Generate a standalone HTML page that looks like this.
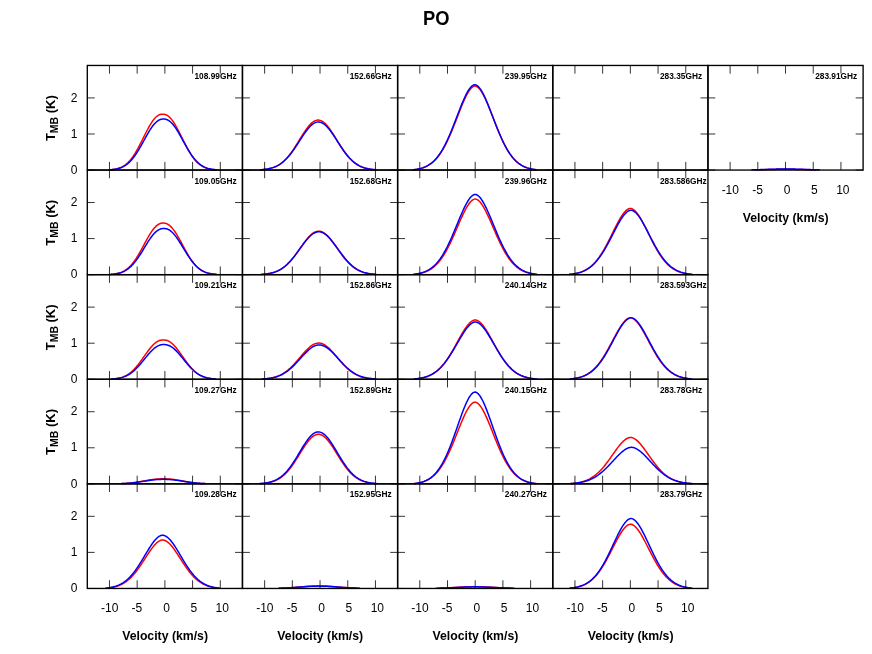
<!DOCTYPE html>
<html><head><meta charset="utf-8"><title>PO</title>
<style>
html,body{margin:0;padding:0;background:#fff;}
body{width:872px;height:654px;overflow:hidden;}
svg{display:block;will-change:transform;}
text{font-family:"Liberation Sans",sans-serif;fill:#000;}
.b{font-weight:bold;}
.t12{font-size:12px;}
.f{font-size:9.33px;font-weight:bold;}
</style></head><body>
<svg width="872" height="654" viewBox="0 0 872 654">
<rect x="0" y="0" width="872" height="654" fill="#fff"/>
<text class="b" font-size="20" text-anchor="middle" transform="translate(436.3 24.9) scale(0.917 1)">PO</text>
<g>
<g>
<polyline points="109.02,169.83 109.80,169.78 110.57,169.71 111.35,169.64 112.13,169.56 112.90,169.46 113.68,169.35 114.45,169.22 115.23,169.08 116.00,168.92 116.78,168.74 117.56,168.53 118.33,168.30 119.11,168.05 119.88,167.76 120.66,167.45 121.44,167.10 122.21,166.71 122.99,166.29 123.76,165.82 124.54,165.32 125.31,164.76 126.09,164.16 126.87,163.51 127.64,162.81 128.42,162.06 129.19,161.26 129.97,160.39 130.74,159.48 131.52,158.50 132.30,157.47 133.07,156.39 133.85,155.24 134.62,154.05 135.40,152.80 136.18,151.51 136.95,150.16 137.73,148.77 138.50,147.34 139.28,145.88 140.05,144.38 140.83,142.86 141.61,141.32 142.38,139.76 143.16,138.20 143.93,136.63 144.71,135.06 145.49,133.51 146.26,131.98 147.04,130.47 147.81,128.99 148.59,127.56 149.36,126.17 150.14,124.83 150.92,123.56 151.69,122.35 152.47,121.21 153.24,120.14 154.02,119.16 154.79,118.26 155.57,117.45 156.35,116.72 157.12,116.09 157.90,115.55 158.67,115.10 159.45,114.74 160.23,114.48 161.00,114.29 161.78,114.19 162.55,114.15 163.33,114.17 164.10,114.25 164.88,114.42 165.66,114.66 166.43,114.99 167.21,115.41 167.98,115.93 168.76,116.53 169.53,117.23 170.31,118.02 171.09,118.89 171.86,119.85 172.64,120.90 173.41,122.01 174.19,123.21 174.97,124.46 175.74,125.78 176.52,127.16 177.29,128.58 178.07,130.04 178.84,131.54 179.62,133.07 180.40,134.62 181.17,136.18 181.95,137.75 182.72,139.32 183.50,140.88 184.27,142.42 185.05,143.95 185.83,145.46 186.60,146.93 187.38,148.37 188.15,149.77 188.93,151.13 189.71,152.44 190.48,153.70 191.26,154.91 192.03,156.06 192.81,157.17 193.58,158.21 194.36,159.20 195.14,160.14 195.91,161.01 196.69,161.84 197.46,162.61 198.24,163.32 199.02,163.98 199.79,164.60 200.57,165.16 201.34,165.68 202.12,166.16 202.89,166.60 203.67,166.99 204.45,167.35 205.22,167.68 206.00,167.97 206.77,168.23 207.55,168.47 208.32,168.68 209.10,168.87 209.88,169.04 210.65,169.18 211.43,169.31 212.20,169.43 212.98,169.53 213.76,169.62 214.53,169.69 215.31,169.76 216.08,169.82" fill="none" stroke="#ff0000" stroke-width="1.5" stroke-linejoin="round"/>
<polyline points="109.80,169.81 110.57,169.75 111.35,169.69 112.13,169.61 112.90,169.53 113.68,169.43 114.45,169.32 115.23,169.19 116.00,169.05 116.78,168.89 117.56,168.71 118.33,168.51 119.11,168.29 119.88,168.04 120.66,167.76 121.44,167.46 122.21,167.12 122.99,166.75 123.76,166.35 124.54,165.90 125.31,165.42 126.09,164.89 126.87,164.33 127.64,163.72 128.42,163.06 129.19,162.35 129.97,161.60 130.74,160.79 131.52,159.94 132.30,159.03 133.07,158.08 133.85,157.08 134.62,156.02 135.40,154.93 136.18,153.78 136.95,152.59 137.73,151.36 138.50,150.10 139.28,148.80 140.05,147.47 140.83,146.11 141.61,144.73 142.38,143.33 143.16,141.93 143.93,140.51 144.71,139.10 145.49,137.69 146.26,136.30 147.04,134.92 147.81,133.57 148.59,132.25 149.36,130.96 150.14,129.72 150.92,128.53 151.69,127.39 152.47,126.31 153.24,125.29 154.02,124.35 154.79,123.47 155.57,122.67 156.35,121.95 157.12,121.30 157.90,120.74 158.67,120.26 159.45,119.86 160.23,119.55 161.00,119.31 161.78,119.15 162.55,119.05 163.33,119.02 164.10,119.04 164.88,119.11 165.66,119.25 166.43,119.47 167.21,119.77 167.98,120.14 168.76,120.60 169.53,121.14 170.31,121.75 171.09,122.46 171.86,123.23 172.64,124.09 173.41,125.02 174.19,126.01 174.97,127.08 175.74,128.20 176.52,129.38 177.29,130.60 178.07,131.88 178.84,133.19 179.62,134.53 180.40,135.90 181.17,137.29 181.95,138.70 182.72,140.11 183.50,141.52 184.27,142.93 185.05,144.33 185.83,145.72 186.60,147.08 187.38,148.42 188.15,149.73 188.93,151.01 189.71,152.25 190.48,153.45 191.26,154.60 192.03,155.72 192.81,156.78 193.58,157.80 194.36,158.77 195.14,159.68 195.91,160.55 196.69,161.37 197.46,162.14 198.24,162.86 199.02,163.53 199.79,164.16 200.57,164.74 201.34,165.27 202.12,165.77 202.89,166.22 203.67,166.64 204.45,167.02 205.22,167.37 206.00,167.68 206.77,167.96 207.55,168.22 208.32,168.45 209.10,168.66 209.88,168.84 210.65,169.01 211.43,169.16 212.20,169.29 212.98,169.40 213.76,169.50 214.53,169.59 215.31,169.67 216.08,169.73 216.86,169.79" fill="none" stroke="#0000ff" stroke-width="1.5" stroke-linejoin="round"/>
</g>
<path d="M109.47 170.06V161.86M109.47 65.46V73.66M137.17 170.06V161.86M137.17 65.46V73.66M164.88 170.06V161.86M164.88 65.46V73.66M192.59 170.06V161.86M192.59 65.46V73.66M220.29 170.06V161.86M220.29 65.46V73.66M87.30 170.06H94.70M242.46 170.06H235.06M87.30 133.99H94.70M242.46 133.99H235.06M87.30 97.92H94.70M242.46 97.92H235.06" stroke="#000" stroke-width="0.8" fill="none"/>
<rect x="87.30" y="65.46" width="155.16" height="104.60" fill="none" stroke="#000" stroke-width="1.35"/>
<text class="f" transform="translate(194.50 79.06) scale(0.893 1)">108.99GHz</text>
<text class="t12" x="77.4" y="173.76" text-anchor="end">0</text>
<text class="t12" x="77.4" y="137.69" text-anchor="end">1</text>
<text class="t12" x="77.4" y="101.62" text-anchor="end">2</text>
<text class="b" font-size="12.4" text-anchor="middle" transform="translate(54.6 118.16) rotate(-90) scale(1.048 1)">T<tspan font-size="10" dy="3.7">MB</tspan><tspan dy="-3.7"> (K)</tspan></text>
</g>
<g>
<g>
<polyline points="260.30,169.81 261.08,169.76 261.85,169.69 262.63,169.63 263.41,169.55 264.18,169.46 264.96,169.37 265.73,169.26 266.51,169.14 267.29,169.01 268.06,168.87 268.84,168.71 269.61,168.54 270.39,168.35 271.16,168.14 271.94,167.91 272.72,167.66 273.49,167.39 274.27,167.10 275.04,166.78 275.82,166.44 276.60,166.07 277.37,165.66 278.15,165.23 278.92,164.77 279.70,164.28 280.47,163.75 281.25,163.18 282.03,162.59 282.80,161.95 283.58,161.28 284.35,160.56 285.13,159.81 285.90,159.03 286.68,158.20 287.46,157.33 288.23,156.43 289.01,155.48 289.78,154.50 290.56,153.49 291.34,152.44 292.11,151.35 292.89,150.24 293.66,149.09 294.44,147.92 295.21,146.72 295.99,145.51 296.77,144.27 297.54,143.03 298.32,141.77 299.09,140.50 299.87,139.23 300.64,137.97 301.42,136.71 302.20,135.46 302.97,134.23 303.75,133.02 304.52,131.83 305.30,130.68 306.08,129.56 306.85,128.49 307.63,127.46 308.40,126.48 309.18,125.55 309.95,124.69 310.73,123.89 311.51,123.16 312.28,122.50 313.06,121.91 313.83,121.41 314.61,120.98 315.39,120.64 316.16,120.38 316.94,120.20 317.71,120.12 318.49,120.12 319.26,120.20 320.04,120.38 320.82,120.64 321.59,120.98 322.37,121.41 323.14,121.91 323.92,122.50 324.69,123.16 325.47,123.89 326.25,124.69 327.02,125.55 327.80,126.48 328.57,127.46 329.35,128.49 330.13,129.56 330.90,130.68 331.68,131.83 332.45,133.02 333.23,134.23 334.00,135.46 334.78,136.71 335.56,137.97 336.33,139.23 337.11,140.50 337.88,141.77 338.66,143.03 339.43,144.27 340.21,145.51 340.99,146.72 341.76,147.92 342.54,149.09 343.31,150.24 344.09,151.35 344.87,152.44 345.64,153.49 346.42,154.50 347.19,155.48 347.97,156.43 348.74,157.33 349.52,158.20 350.30,159.03 351.07,159.81 351.85,160.56 352.62,161.28 353.40,161.95 354.18,162.59 354.95,163.18 355.73,163.75 356.50,164.28 357.28,164.77 358.05,165.23 358.83,165.66 359.61,166.07 360.38,166.44 361.16,166.78 361.93,167.10 362.71,167.39 363.48,167.66 364.26,167.91 365.04,168.14 365.81,168.35 366.59,168.54 367.36,168.71 368.14,168.87 368.92,169.01 369.69,169.14 370.47,169.26 371.24,169.37 372.02,169.46 372.79,169.55 373.57,169.63 374.35,169.69 375.12,169.76 375.90,169.81" fill="none" stroke="#ff0000" stroke-width="1.5" stroke-linejoin="round"/>
<polyline points="260.30,169.79 261.08,169.74 261.85,169.67 262.63,169.60 263.41,169.53 264.18,169.44 264.96,169.34 265.73,169.24 266.51,169.12 267.29,168.99 268.06,168.85 268.84,168.69 269.61,168.52 270.39,168.33 271.16,168.13 271.94,167.90 272.72,167.66 273.49,167.39 274.27,167.11 275.04,166.79 275.82,166.46 276.60,166.10 277.37,165.71 278.15,165.29 278.92,164.84 279.70,164.36 280.47,163.85 281.25,163.31 282.03,162.73 282.80,162.12 283.58,161.47 284.35,160.79 285.13,160.07 285.90,159.31 286.68,158.52 287.46,157.69 288.23,156.82 289.01,155.92 289.78,154.99 290.56,154.02 291.34,153.02 292.11,151.98 292.89,150.92 293.66,149.83 294.44,148.72 295.21,147.58 295.99,146.43 296.77,145.25 297.54,144.07 298.32,142.87 299.09,141.67 299.87,140.46 300.64,139.26 301.42,138.06 302.20,136.87 302.97,135.70 303.75,134.55 304.52,133.42 305.30,132.32 306.08,131.25 306.85,130.22 307.63,129.24 308.40,128.30 309.18,127.41 309.95,126.57 310.73,125.80 311.51,125.09 312.28,124.44 313.06,123.87 313.83,123.36 314.61,122.94 315.39,122.59 316.16,122.31 316.94,122.12 317.71,122.01 318.49,121.98 319.26,122.03 320.04,122.17 320.82,122.38 321.59,122.68 322.37,123.05 323.14,123.50 323.92,124.02 324.69,124.62 325.47,125.28 326.25,126.01 327.02,126.81 327.80,127.66 328.57,128.56 329.35,129.51 330.13,130.51 330.90,131.55 331.68,132.63 332.45,133.74 333.23,134.88 334.00,136.03 334.78,137.21 335.56,138.40 336.33,139.60 337.11,140.81 337.88,142.01 338.66,143.21 339.43,144.41 340.21,145.59 340.99,146.76 341.76,147.91 342.54,149.04 343.31,150.15 344.09,151.23 344.87,152.28 345.64,153.31 346.42,154.30 347.19,155.26 347.97,156.18 348.74,157.07 349.52,157.93 350.30,158.75 351.07,159.53 351.85,160.28 352.62,160.99 353.40,161.66 354.18,162.30 354.95,162.90 355.73,163.47 356.50,164.00 357.28,164.50 358.05,164.97 358.83,165.41 359.61,165.82 360.38,166.20 361.16,166.56 361.93,166.89 362.71,167.19 363.48,167.47 364.26,167.73 365.04,167.97 365.81,168.19 366.59,168.39 367.36,168.57 368.14,168.74 368.92,168.89 369.69,169.03 370.47,169.16 371.24,169.27 372.02,169.37 372.79,169.47 373.57,169.55 374.35,169.62 375.12,169.69 375.90,169.75 376.67,169.81" fill="none" stroke="#0000ff" stroke-width="1.5" stroke-linejoin="round"/>
</g>
<path d="M264.63 170.06V161.86M264.63 65.46V73.66M292.33 170.06V161.86M292.33 65.46V73.66M320.04 170.06V161.86M320.04 65.46V73.66M347.75 170.06V161.86M347.75 65.46V73.66M375.45 170.06V161.86M375.45 65.46V73.66M242.46 170.06H249.86M397.62 170.06H390.22M242.46 133.99H249.86M397.62 133.99H390.22M242.46 97.92H249.86M397.62 97.92H390.22" stroke="#000" stroke-width="0.8" fill="none"/>
<rect x="242.46" y="65.46" width="155.16" height="104.60" fill="none" stroke="#000" stroke-width="1.35"/>
<text class="f" transform="translate(349.66 79.06) scale(0.893 1)">152.66GHz</text>
</g>
<g>
<g>
<polyline points="413.14,169.82 413.91,169.73 414.69,169.64 415.46,169.53 416.24,169.42 417.01,169.29 417.79,169.15 418.57,168.99 419.34,168.82 420.12,168.64 420.89,168.44 421.67,168.22 422.45,167.98 423.22,167.72 424.00,167.44 424.77,167.13 425.55,166.80 426.32,166.45 427.10,166.06 427.88,165.65 428.65,165.20 429.43,164.72 430.20,164.21 430.98,163.66 431.76,163.07 432.53,162.44 433.31,161.77 434.08,161.05 434.86,160.29 435.63,159.49 436.41,158.63 437.19,157.73 437.96,156.78 438.74,155.77 439.51,154.72 440.29,153.61 441.06,152.44 441.84,151.22 442.62,149.95 443.39,148.62 444.17,147.23 444.94,145.79 445.72,144.30 446.50,142.76 447.27,141.16 448.05,139.51 448.82,137.81 449.60,136.07 450.37,134.29 451.15,132.46 451.93,130.60 452.70,128.70 453.48,126.78 454.25,124.83 455.03,122.86 455.81,120.87 456.58,118.87 457.36,116.87 458.13,114.87 458.91,112.88 459.68,110.91 460.46,108.95 461.24,107.03 462.01,105.14 462.79,103.29 463.56,101.50 464.34,99.76 465.11,98.09 465.89,96.50 466.67,94.99 467.44,93.56 468.22,92.24 468.99,91.02 469.77,89.91 470.55,88.93 471.32,88.07 472.10,87.35 472.87,86.77 473.65,86.35 474.42,86.09 475.20,86.03 475.98,86.18 476.75,86.51 477.53,87.00 478.30,87.64 479.08,88.42 479.85,89.33 480.63,90.37 481.41,91.53 482.18,92.79 482.96,94.16 483.73,95.62 484.51,97.17 485.29,98.80 486.06,100.50 486.84,102.26 487.61,104.08 488.39,105.94 489.16,107.85 489.94,109.79 490.72,111.75 491.49,113.74 492.27,115.73 493.04,117.73 493.82,119.73 494.60,121.72 495.37,123.70 496.15,125.67 496.92,127.61 497.70,129.52 498.47,131.40 499.25,133.25 500.03,135.06 500.80,136.82 501.58,138.55 502.35,140.22 503.13,141.85 503.90,143.42 504.68,144.95 505.46,146.42 506.23,147.83 507.01,149.19 507.78,150.50 508.56,151.75 509.34,152.95 510.11,154.09 510.89,155.18 511.66,156.21 512.44,157.19 513.21,158.12 513.99,159.01 514.77,159.84 515.54,160.62 516.32,161.36 517.09,162.06 517.87,162.71 518.64,163.32 519.42,163.90 520.20,164.43 520.97,164.93 521.75,165.40 522.52,165.83 523.30,166.23 524.08,166.60 524.85,166.95 525.63,167.27 526.40,167.56 527.18,167.84 527.95,168.09 528.73,168.32 529.51,168.53 530.28,168.72 531.06,168.90 531.83,169.06 532.61,169.21 533.38,169.34 534.16,169.47 534.94,169.58 535.71,169.68 536.49,169.77" fill="none" stroke="#ff0000" stroke-width="1.5" stroke-linejoin="round"/>
<polyline points="413.14,169.79 413.91,169.70 414.69,169.60 415.46,169.49 416.24,169.37 417.01,169.24 417.79,169.09 418.57,168.93 419.34,168.75 420.12,168.56 420.89,168.35 421.67,168.12 422.45,167.88 423.22,167.61 424.00,167.31 424.77,167.00 425.55,166.65 426.32,166.28 427.10,165.88 427.88,165.45 428.65,164.99 429.43,164.49 430.20,163.96 430.98,163.39 431.76,162.78 432.53,162.13 433.31,161.44 434.08,160.70 434.86,159.91 435.63,159.08 436.41,158.20 437.19,157.27 437.96,156.29 438.74,155.25 439.51,154.16 440.29,153.02 441.06,151.82 441.84,150.57 442.62,149.26 443.39,147.89 444.17,146.47 444.94,144.99 445.72,143.46 446.50,141.88 447.27,140.24 448.05,138.55 448.82,136.82 449.60,135.03 450.37,133.21 451.15,131.34 451.93,129.44 452.70,127.51 453.48,125.55 454.25,123.56 455.03,121.55 455.81,119.53 456.58,117.50 457.36,115.47 458.13,113.44 458.91,111.43 459.68,109.42 460.46,107.45 461.24,105.50 462.01,103.60 462.79,101.74 463.56,99.93 464.34,98.19 465.11,96.51 465.89,94.91 466.67,93.40 467.44,91.99 468.22,90.67 468.99,89.46 469.77,88.37 470.55,87.41 471.32,86.58 472.10,85.89 472.87,85.34 473.65,84.96 474.42,84.75 475.20,84.75 475.98,84.96 476.75,85.34 477.53,85.89 478.30,86.58 479.08,87.41 479.85,88.37 480.63,89.46 481.41,90.67 482.18,91.99 482.96,93.40 483.73,94.91 484.51,96.51 485.29,98.19 486.06,99.93 486.84,101.74 487.61,103.60 488.39,105.50 489.16,107.45 489.94,109.42 490.72,111.43 491.49,113.44 492.27,115.47 493.04,117.50 493.82,119.53 494.60,121.55 495.37,123.56 496.15,125.55 496.92,127.51 497.70,129.44 498.47,131.34 499.25,133.21 500.03,135.03 500.80,136.82 501.58,138.55 502.35,140.24 503.13,141.88 503.90,143.46 504.68,144.99 505.46,146.47 506.23,147.89 507.01,149.26 507.78,150.57 508.56,151.82 509.34,153.02 510.11,154.16 510.89,155.25 511.66,156.29 512.44,157.27 513.21,158.20 513.99,159.08 514.77,159.91 515.54,160.70 516.32,161.44 517.09,162.13 517.87,162.78 518.64,163.39 519.42,163.96 520.20,164.49 520.97,164.99 521.75,165.45 522.52,165.88 523.30,166.28 524.08,166.65 524.85,167.00 525.63,167.31 526.40,167.61 527.18,167.88 527.95,168.12 528.73,168.35 529.51,168.56 530.28,168.75 531.06,168.93 531.83,169.09 532.61,169.24 533.38,169.37 534.16,169.49 534.94,169.60 535.71,169.70 536.49,169.79" fill="none" stroke="#0000ff" stroke-width="1.5" stroke-linejoin="round"/>
</g>
<path d="M419.79 170.06V161.86M419.79 65.46V73.66M447.49 170.06V161.86M447.49 65.46V73.66M475.20 170.06V161.86M475.20 65.46V73.66M502.91 170.06V161.86M502.91 65.46V73.66M530.61 170.06V161.86M530.61 65.46V73.66M397.62 170.06H405.02M552.78 170.06H545.38M397.62 133.99H405.02M552.78 133.99H545.38M397.62 97.92H405.02M552.78 97.92H545.38" stroke="#000" stroke-width="0.8" fill="none"/>
<rect x="397.62" y="65.46" width="155.16" height="104.60" fill="none" stroke="#000" stroke-width="1.35"/>
<text class="f" transform="translate(504.82 79.06) scale(0.893 1)">239.95GHz</text>
</g>
<g>
<g>


</g>
<path d="M574.95 170.06V161.86M574.95 65.46V73.66M602.65 170.06V161.86M602.65 65.46V73.66M630.36 170.06V161.86M630.36 65.46V73.66M658.07 170.06V161.86M658.07 65.46V73.66M685.77 170.06V161.86M685.77 65.46V73.66M552.78 170.06H560.18M707.94 170.06H700.54M552.78 133.99H560.18M707.94 133.99H700.54M552.78 97.92H560.18M707.94 97.92H700.54" stroke="#000" stroke-width="0.8" fill="none"/>
<rect x="552.78" y="65.46" width="155.16" height="104.60" fill="none" stroke="#000" stroke-width="1.35"/>
<text class="f" transform="translate(659.98 79.06) scale(0.893 1)">283.35GHz</text>
</g>
<g>
<g>
<polyline points="755.26,169.83 756.04,169.82 756.82,169.81 757.59,169.79 758.37,169.77 759.14,169.76 759.92,169.74 760.69,169.73 761.47,169.71 762.25,169.69 763.02,169.67 763.80,169.66 764.57,169.64 765.35,169.62 766.12,169.60 766.90,169.58 767.68,169.56 768.45,169.54 769.23,169.52 770.00,169.51 770.78,169.49 771.56,169.47 772.33,169.45 773.11,169.43 773.88,169.42 774.66,169.40 775.43,169.38 776.21,169.37 776.99,169.35 777.76,169.34 778.54,169.33 779.31,169.32 780.09,169.31 780.87,169.30 781.64,169.29 782.42,169.28 783.19,169.27 783.97,169.27 784.74,169.27 785.52,169.27 786.30,169.27 787.07,169.27 787.85,169.27 788.62,169.28 789.40,169.29 790.17,169.30 790.95,169.31 791.73,169.32 792.50,169.33 793.28,169.34 794.05,169.35 794.83,169.37 795.61,169.38 796.38,169.40 797.16,169.42 797.93,169.43 798.71,169.45 799.48,169.47 800.26,169.49 801.04,169.51 801.81,169.52 802.59,169.54 803.36,169.56 804.14,169.58 804.91,169.60 805.69,169.62 806.47,169.64 807.24,169.66 808.02,169.67 808.79,169.69 809.57,169.71 810.35,169.73 811.12,169.74 811.90,169.76 812.67,169.77 813.45,169.79 814.22,169.81 815.00,169.82 815.78,169.83" fill="none" stroke="#ff0000" stroke-width="1.5" stroke-linejoin="round"/>
<polyline points="751.38,169.84 752.16,169.82 752.94,169.80 753.71,169.79 754.49,169.77 755.26,169.75 756.04,169.73 756.82,169.71 757.59,169.69 758.37,169.67 759.14,169.65 759.92,169.63 760.69,169.60 761.47,169.58 762.25,169.56 763.02,169.53 763.80,169.51 764.57,169.48 765.35,169.46 766.12,169.43 766.90,169.41 767.68,169.38 768.45,169.35 769.23,169.33 770.00,169.30 770.78,169.28 771.56,169.25 772.33,169.23 773.11,169.21 773.88,169.18 774.66,169.16 775.43,169.14 776.21,169.12 776.99,169.10 777.76,169.08 778.54,169.06 779.31,169.05 780.09,169.03 780.87,169.02 781.64,169.01 782.42,169.00 783.19,168.99 783.97,168.98 784.74,168.98 785.52,168.98 786.30,168.98 787.07,168.98 787.85,168.99 788.62,169.00 789.40,169.01 790.17,169.02 790.95,169.03 791.73,169.05 792.50,169.06 793.28,169.08 794.05,169.10 794.83,169.12 795.61,169.14 796.38,169.16 797.16,169.18 797.93,169.21 798.71,169.23 799.48,169.25 800.26,169.28 801.04,169.30 801.81,169.33 802.59,169.35 803.36,169.38 804.14,169.41 804.91,169.43 805.69,169.46 806.47,169.48 807.24,169.51 808.02,169.53 808.79,169.56 809.57,169.58 810.35,169.60 811.12,169.63 811.90,169.65 812.67,169.67 813.45,169.69 814.22,169.71 815.00,169.73 815.78,169.75 816.55,169.77 817.33,169.79 818.10,169.80 818.88,169.82 819.66,169.84" fill="none" stroke="#0000ff" stroke-width="1.5" stroke-linejoin="round"/>
</g>
<path d="M730.11 170.06V161.86M730.11 65.46V73.66M757.81 170.06V161.86M757.81 65.46V73.66M785.52 170.06V161.86M785.52 65.46V73.66M813.23 170.06V161.86M813.23 65.46V73.66M840.93 170.06V161.86M840.93 65.46V73.66M707.94 170.06H715.34M863.10 170.06H855.70M707.94 133.99H715.34M863.10 133.99H855.70M707.94 97.92H715.34M863.10 97.92H855.70" stroke="#000" stroke-width="0.8" fill="none"/>
<rect x="707.94" y="65.46" width="155.16" height="104.60" fill="none" stroke="#000" stroke-width="1.35"/>
<text class="f" transform="translate(815.14 79.06) scale(0.893 1)">283.91GHz</text>
<text class="t12" x="730.31" y="193.66" text-anchor="middle">-10</text>
<text class="t12" x="757.51" y="193.66" text-anchor="middle">-5</text>
<text class="t12" x="787.12" y="193.66" text-anchor="middle">0</text>
<text class="t12" x="814.43" y="193.66" text-anchor="middle">5</text>
<text class="t12" x="842.83" y="193.66" text-anchor="middle">10</text>
<text class="b" font-size="12.75" text-anchor="middle" transform="translate(785.72 221.66) scale(0.962 1)">Velocity (km/s)</text>
</g>
<g>
<g>
<polyline points="109.80,274.44 110.57,274.38 111.35,274.32 112.13,274.25 112.90,274.17 113.68,274.08 114.45,273.97 115.23,273.85 116.00,273.72 116.78,273.56 117.56,273.39 118.33,273.19 119.11,272.97 119.88,272.73 120.66,272.46 121.44,272.16 122.21,271.83 122.99,271.46 123.76,271.06 124.54,270.62 125.31,270.14 126.09,269.62 126.87,269.05 127.64,268.44 128.42,267.78 129.19,267.07 129.97,266.31 130.74,265.50 131.52,264.64 132.30,263.73 133.07,262.76 133.85,261.75 134.62,260.68 135.40,259.56 136.18,258.40 136.95,257.19 137.73,255.94 138.50,254.65 139.28,253.32 140.05,251.96 140.83,250.57 141.61,249.16 142.38,247.74 143.16,246.30 143.93,244.85 144.71,243.40 145.49,241.96 146.26,240.53 147.04,239.13 147.81,237.74 148.59,236.39 149.36,235.08 150.14,233.81 150.92,232.59 151.69,231.43 152.47,230.33 153.24,229.30 154.02,228.34 154.79,227.45 155.57,226.65 156.35,225.92 157.12,225.28 157.90,224.72 158.67,224.24 159.45,223.85 160.23,223.55 161.00,223.32 161.78,223.18 162.55,223.10 163.33,223.08 164.10,223.11 164.88,223.21 165.66,223.38 166.43,223.63 167.21,223.96 167.98,224.37 168.76,224.87 169.53,225.45 170.31,226.12 171.09,226.87 171.86,227.70 172.64,228.61 173.41,229.59 174.19,230.64 174.97,231.76 175.74,232.94 176.52,234.17 177.29,235.45 178.07,236.77 178.84,238.13 179.62,239.53 180.40,240.94 181.17,242.37 181.95,243.82 182.72,245.26 183.50,246.71 184.27,248.14 185.05,249.57 185.83,250.97 186.60,252.35 187.38,253.70 188.15,255.02 188.93,256.30 189.71,257.54 190.48,258.74 191.26,259.89 192.03,260.99 192.81,262.04 193.58,263.05 194.36,264.00 195.14,264.89 195.91,265.74 196.69,266.54 197.46,267.28 198.24,267.98 199.02,268.62 199.79,269.22 200.57,269.77 201.34,270.28 202.12,270.75 202.89,271.18 203.67,271.57 204.45,271.93 205.22,272.25 206.00,272.54 206.77,272.80 207.55,273.04 208.32,273.25 209.10,273.44 209.88,273.61 210.65,273.76 211.43,273.89 212.20,274.00 212.98,274.11 213.76,274.20 214.53,274.27 215.31,274.34 216.08,274.40" fill="none" stroke="#ff0000" stroke-width="1.5" stroke-linejoin="round"/>
<polyline points="110.57,274.40 111.35,274.35 112.13,274.29 112.90,274.21 113.68,274.13 114.45,274.03 115.23,273.93 116.00,273.81 116.78,273.67 117.56,273.51 118.33,273.34 119.11,273.15 119.88,272.93 120.66,272.69 121.44,272.43 122.21,272.14 122.99,271.81 123.76,271.46 124.54,271.07 125.31,270.65 126.09,270.20 126.87,269.70 127.64,269.16 128.42,268.59 129.19,267.97 129.97,267.30 130.74,266.59 131.52,265.84 132.30,265.04 133.07,264.20 133.85,263.31 134.62,262.38 135.40,261.40 136.18,260.38 136.95,259.32 137.73,258.23 138.50,257.10 139.28,255.93 140.05,254.74 140.83,253.52 141.61,252.28 142.38,251.03 143.16,249.76 143.93,248.48 144.71,247.20 145.49,245.93 146.26,244.66 147.04,243.40 147.81,242.17 148.59,240.96 149.36,239.79 150.14,238.65 150.92,237.55 151.69,236.50 152.47,235.50 153.24,234.55 154.02,233.67 154.79,232.85 155.57,232.09 156.35,231.41 157.12,230.80 157.90,230.26 158.67,229.79 159.45,229.40 160.23,229.08 161.00,228.83 161.78,228.66 162.55,228.55 163.33,228.50 164.10,228.49 164.88,228.54 165.66,228.64 166.43,228.81 167.21,229.04 167.98,229.35 168.76,229.73 169.53,230.19 170.31,230.71 171.09,231.32 171.86,231.99 172.64,232.74 173.41,233.55 174.19,234.42 174.97,235.36 175.74,236.35 176.52,237.40 177.29,238.49 178.07,239.62 178.84,240.79 179.62,242.00 180.40,243.23 181.17,244.48 181.95,245.74 182.72,247.02 183.50,248.30 184.27,249.57 185.05,250.84 185.83,252.10 186.60,253.35 187.38,254.57 188.15,255.76 188.93,256.93 189.71,258.07 190.48,259.17 191.26,260.23 192.03,261.26 192.81,262.24 193.58,263.18 194.36,264.07 195.14,264.92 195.91,265.73 196.69,266.49 197.46,267.20 198.24,267.87 199.02,268.50 199.79,269.08 200.57,269.62 201.34,270.13 202.12,270.59 202.89,271.02 203.67,271.41 204.45,271.77 205.22,272.09 206.00,272.39 206.77,272.66 207.55,272.90 208.32,273.12 209.10,273.31 209.88,273.49 210.65,273.65 211.43,273.79 212.20,273.91 212.98,274.02 213.76,274.12 214.53,274.20 215.31,274.28 216.08,274.34 216.86,274.40" fill="none" stroke="#0000ff" stroke-width="1.5" stroke-linejoin="round"/>
</g>
<path d="M109.47 274.66V266.46M109.47 170.06V178.26M137.17 274.66V266.46M137.17 170.06V178.26M164.88 274.66V266.46M164.88 170.06V178.26M192.59 274.66V266.46M192.59 170.06V178.26M220.29 274.66V266.46M220.29 170.06V178.26M87.30 274.66H94.70M242.46 274.66H235.06M87.30 238.59H94.70M242.46 238.59H235.06M87.30 202.52H94.70M242.46 202.52H235.06" stroke="#000" stroke-width="0.8" fill="none"/>
<rect x="87.30" y="170.06" width="155.16" height="104.60" fill="none" stroke="#000" stroke-width="1.35"/>
<text class="f" transform="translate(194.50 183.66) scale(0.893 1)">109.05GHz</text>
<text class="t12" x="77.4" y="278.36" text-anchor="end">0</text>
<text class="t12" x="77.4" y="242.29" text-anchor="end">1</text>
<text class="t12" x="77.4" y="206.22" text-anchor="end">2</text>
<text class="b" font-size="12.4" text-anchor="middle" transform="translate(54.6 222.76) rotate(-90) scale(1.048 1)">T<tspan font-size="10" dy="3.7">MB</tspan><tspan dy="-3.7"> (K)</tspan></text>
</g>
<g>
<g>
<polyline points="261.08,274.43 261.85,274.38 262.63,274.33 263.41,274.26 264.18,274.19 264.96,274.12 265.73,274.03 266.51,273.94 267.29,273.83 268.06,273.72 268.84,273.59 269.61,273.45 270.39,273.29 271.16,273.12 271.94,272.94 272.72,272.73 273.49,272.51 274.27,272.27 275.04,272.01 275.82,271.72 276.60,271.42 277.37,271.09 278.15,270.73 278.92,270.35 279.70,269.94 280.47,269.50 281.25,269.03 282.03,268.53 282.80,268.00 283.58,267.44 284.35,266.84 285.13,266.22 285.90,265.55 286.68,264.86 287.46,264.13 288.23,263.36 289.01,262.57 289.78,261.74 290.56,260.88 291.34,259.98 292.11,259.06 292.89,258.11 293.66,257.13 294.44,256.13 295.21,255.10 295.99,254.06 296.77,252.99 297.54,251.92 298.32,250.83 299.09,249.73 299.87,248.63 300.64,247.52 301.42,246.42 302.20,245.33 302.97,244.25 303.75,243.18 304.52,242.13 305.30,241.11 306.08,240.12 306.85,239.15 307.63,238.23 308.40,237.35 309.18,236.51 309.95,235.72 310.73,234.98 311.51,234.30 312.28,233.68 313.06,233.13 313.83,232.64 314.61,232.22 315.39,231.87 316.16,231.59 316.94,231.38 317.71,231.25 318.49,231.20 319.26,231.22 320.04,231.32 320.82,231.49 321.59,231.74 322.37,232.06 323.14,232.45 323.92,232.91 324.69,233.44 325.47,234.03 326.25,234.68 327.02,235.40 327.80,236.16 328.57,236.98 329.35,237.85 330.13,238.75 330.90,239.70 331.68,240.68 332.45,241.69 333.23,242.73 334.00,243.79 334.78,244.87 335.56,245.95 336.33,247.05 337.11,248.15 337.88,249.26 338.66,250.36 339.43,251.45 340.21,252.53 340.99,253.60 341.76,254.66 342.54,255.69 343.31,256.70 344.09,257.69 344.87,258.66 345.64,259.59 346.42,260.50 347.19,261.37 347.97,262.22 348.74,263.03 349.52,263.80 350.30,264.55 351.07,265.26 351.85,265.94 352.62,266.58 353.40,267.19 354.18,267.77 354.95,268.31 355.73,268.82 356.50,269.30 357.28,269.75 358.05,270.18 358.83,270.57 359.61,270.94 360.38,271.28 361.16,271.60 361.93,271.89 362.71,272.16 363.48,272.41 364.26,272.64 365.04,272.85 365.81,273.04 366.59,273.22 367.36,273.38 368.14,273.53 368.92,273.66 369.69,273.78 370.47,273.89 371.24,273.99 372.02,274.08 372.79,274.16 373.57,274.24 374.35,274.30 375.12,274.36 375.90,274.41" fill="none" stroke="#ff0000" stroke-width="1.5" stroke-linejoin="round"/>
<polyline points="261.08,274.40 261.85,274.35 262.63,274.29 263.41,274.22 264.18,274.15 264.96,274.07 265.73,273.98 266.51,273.88 267.29,273.77 268.06,273.65 268.84,273.52 269.61,273.38 270.39,273.22 271.16,273.04 271.94,272.85 272.72,272.64 273.49,272.42 274.27,272.17 275.04,271.91 275.82,271.62 276.60,271.31 277.37,270.98 278.15,270.62 278.92,270.23 279.70,269.82 280.47,269.38 281.25,268.91 282.03,268.41 282.80,267.89 283.58,267.33 284.35,266.73 285.13,266.11 285.90,265.45 286.68,264.76 287.46,264.04 288.23,263.29 289.01,262.50 289.78,261.69 290.56,260.84 291.34,259.96 292.11,259.05 292.89,258.12 293.66,257.16 294.44,256.18 295.21,255.18 295.99,254.15 296.77,253.11 297.54,252.06 298.32,251.00 299.09,249.93 299.87,248.85 300.64,247.78 301.42,246.70 302.20,245.64 302.97,244.58 303.75,243.54 304.52,242.52 305.30,241.53 306.08,240.56 306.85,239.62 307.63,238.71 308.40,237.85 309.18,237.03 309.95,236.26 310.73,235.54 311.51,234.87 312.28,234.26 313.06,233.71 313.83,233.22 314.61,232.80 315.39,232.45 316.16,232.17 316.94,231.95 317.71,231.81 318.49,231.74 319.26,231.75 320.04,231.83 320.82,231.98 321.59,232.20 322.37,232.50 323.14,232.86 323.92,233.29 324.69,233.78 325.47,234.34 326.25,234.96 327.02,235.64 327.80,236.36 328.57,237.14 329.35,237.97 330.13,238.84 330.90,239.75 331.68,240.69 332.45,241.67 333.23,242.67 334.00,243.69 334.78,244.73 335.56,245.79 336.33,246.86 337.11,247.93 337.88,249.01 338.66,250.08 339.43,251.15 340.21,252.21 340.99,253.26 341.76,254.30 342.54,255.32 343.31,256.32 344.09,257.30 344.87,258.26 345.64,259.18 346.42,260.09 347.19,260.96 347.97,261.80 348.74,262.62 349.52,263.40 350.30,264.15 351.07,264.86 351.85,265.55 352.62,266.20 353.40,266.82 354.18,267.41 354.95,267.96 355.73,268.49 356.50,268.98 357.28,269.45 358.05,269.88 358.83,270.29 359.61,270.67 360.38,271.02 361.16,271.36 361.93,271.66 362.71,271.95 363.48,272.21 364.26,272.45 365.04,272.67 365.81,272.88 366.59,273.07 367.36,273.24 368.14,273.40 368.92,273.54 369.69,273.67 370.47,273.79 371.24,273.90 372.02,273.99 372.79,274.08 373.57,274.16 374.35,274.23 375.12,274.30 375.90,274.35 376.67,274.41" fill="none" stroke="#0000ff" stroke-width="1.5" stroke-linejoin="round"/>
</g>
<path d="M264.63 274.66V266.46M264.63 170.06V178.26M292.33 274.66V266.46M292.33 170.06V178.26M320.04 274.66V266.46M320.04 170.06V178.26M347.75 274.66V266.46M347.75 170.06V178.26M375.45 274.66V266.46M375.45 170.06V178.26M242.46 274.66H249.86M397.62 274.66H390.22M242.46 238.59H249.86M397.62 238.59H390.22M242.46 202.52H249.86M397.62 202.52H390.22" stroke="#000" stroke-width="0.8" fill="none"/>
<rect x="242.46" y="170.06" width="155.16" height="104.60" fill="none" stroke="#000" stroke-width="1.35"/>
<text class="f" transform="translate(349.66 183.66) scale(0.893 1)">152.68GHz</text>
</g>
<g>
<g>
<polyline points="413.91,274.38 414.69,274.30 415.46,274.21 416.24,274.10 417.01,273.99 417.79,273.87 418.57,273.73 419.34,273.58 420.12,273.42 420.89,273.24 421.67,273.05 422.45,272.84 423.22,272.61 424.00,272.36 424.77,272.09 425.55,271.80 426.32,271.48 427.10,271.14 427.88,270.77 428.65,270.38 429.43,269.95 430.20,269.49 430.98,269.01 431.76,268.48 432.53,267.92 433.31,267.33 434.08,266.69 434.86,266.02 435.63,265.30 436.41,264.55 437.19,263.74 437.96,262.89 438.74,262.00 439.51,261.06 440.29,260.07 441.06,259.03 441.84,257.95 442.62,256.81 443.39,255.62 444.17,254.39 444.94,253.10 445.72,251.77 446.50,250.39 447.27,248.96 448.05,247.49 448.82,245.97 449.60,244.41 450.37,242.81 451.15,241.18 451.93,239.51 452.70,237.81 453.48,236.08 454.25,234.33 455.03,232.56 455.81,230.77 456.58,228.98 457.36,227.18 458.13,225.38 458.91,223.58 459.68,221.80 460.46,220.04 461.24,218.30 462.01,216.59 462.79,214.92 463.56,213.30 464.34,211.72 465.11,210.21 465.89,208.76 466.67,207.38 467.44,206.08 468.22,204.87 468.99,203.75 469.77,202.73 470.55,201.82 471.32,201.02 472.10,200.35 472.87,199.80 473.65,199.39 474.42,199.12 475.20,199.02 475.98,199.12 476.75,199.39 477.53,199.80 478.30,200.35 479.08,201.02 479.85,201.82 480.63,202.73 481.41,203.75 482.18,204.87 482.96,206.08 483.73,207.38 484.51,208.76 485.29,210.21 486.06,211.72 486.84,213.30 487.61,214.92 488.39,216.59 489.16,218.30 489.94,220.04 490.72,221.80 491.49,223.58 492.27,225.38 493.04,227.18 493.82,228.98 494.60,230.77 495.37,232.56 496.15,234.33 496.92,236.08 497.70,237.81 498.47,239.51 499.25,241.18 500.03,242.81 500.80,244.41 501.58,245.97 502.35,247.49 503.13,248.96 503.90,250.39 504.68,251.77 505.46,253.10 506.23,254.39 507.01,255.62 507.78,256.81 508.56,257.95 509.34,259.03 510.11,260.07 510.89,261.06 511.66,262.00 512.44,262.89 513.21,263.74 513.99,264.55 514.77,265.30 515.54,266.02 516.32,266.69 517.09,267.33 517.87,267.92 518.64,268.48 519.42,269.01 520.20,269.49 520.97,269.95 521.75,270.38 522.52,270.77 523.30,271.14 524.08,271.48 524.85,271.80 525.63,272.09 526.40,272.36 527.18,272.61 527.95,272.84 528.73,273.05 529.51,273.24 530.28,273.42 531.06,273.58 531.83,273.73 532.61,273.87 533.38,273.99 534.16,274.10 534.94,274.21 535.71,274.30 536.49,274.38" fill="none" stroke="#ff0000" stroke-width="1.5" stroke-linejoin="round"/>
<polyline points="413.14,274.37 413.91,274.28 414.69,274.18 415.46,274.08 416.24,273.96 417.01,273.83 417.79,273.69 418.57,273.53 419.34,273.36 420.12,273.18 420.89,272.98 421.67,272.76 422.45,272.52 423.22,272.27 424.00,271.99 424.77,271.69 425.55,271.36 426.32,271.01 427.10,270.63 427.88,270.22 428.65,269.79 429.43,269.32 430.20,268.81 430.98,268.28 431.76,267.70 432.53,267.09 433.31,266.44 434.08,265.75 434.86,265.01 435.63,264.24 436.41,263.41 437.19,262.54 437.96,261.63 438.74,260.66 439.51,259.65 440.29,258.58 441.06,257.47 441.84,256.30 442.62,255.08 443.39,253.81 444.17,252.49 444.94,251.12 445.72,249.70 446.50,248.23 447.27,246.72 448.05,245.15 448.82,243.54 449.60,241.89 450.37,240.20 451.15,238.48 451.93,236.71 452.70,234.92 453.48,233.10 454.25,231.26 455.03,229.40 455.81,227.53 456.58,225.65 457.36,223.76 458.13,221.88 458.91,220.00 459.68,218.14 460.46,216.30 461.24,214.48 462.01,212.70 462.79,210.96 463.56,209.27 464.34,207.63 465.11,206.05 465.89,204.54 466.67,203.11 467.44,201.76 468.22,200.50 468.99,199.34 469.77,198.29 470.55,197.34 471.32,196.51 472.10,195.81 472.87,195.25 473.65,194.82 474.42,194.55 475.20,194.44 475.98,194.55 476.75,194.82 477.53,195.25 478.30,195.81 479.08,196.51 479.85,197.34 480.63,198.29 481.41,199.34 482.18,200.50 482.96,201.76 483.73,203.11 484.51,204.54 485.29,206.05 486.06,207.63 486.84,209.27 487.61,210.96 488.39,212.70 489.16,214.48 489.94,216.30 490.72,218.14 491.49,220.00 492.27,221.88 493.04,223.76 493.82,225.65 494.60,227.53 495.37,229.40 496.15,231.26 496.92,233.10 497.70,234.92 498.47,236.71 499.25,238.48 500.03,240.20 500.80,241.89 501.58,243.54 502.35,245.15 503.13,246.72 503.90,248.23 504.68,249.70 505.46,251.12 506.23,252.49 507.01,253.81 507.78,255.08 508.56,256.30 509.34,257.47 510.11,258.58 510.89,259.65 511.66,260.66 512.44,261.63 513.21,262.54 513.99,263.41 514.77,264.24 515.54,265.01 516.32,265.75 517.09,266.44 517.87,267.09 518.64,267.70 519.42,268.28 520.20,268.81 520.97,269.32 521.75,269.79 522.52,270.22 523.30,270.63 524.08,271.01 524.85,271.36 525.63,271.69 526.40,271.99 527.18,272.27 527.95,272.52 528.73,272.76 529.51,272.98 530.28,273.18 531.06,273.36 531.83,273.53 532.61,273.69 533.38,273.83 534.16,273.96 534.94,274.08 535.71,274.18 536.49,274.28 537.26,274.37" fill="none" stroke="#0000ff" stroke-width="1.5" stroke-linejoin="round"/>
</g>
<path d="M419.79 274.66V266.46M419.79 170.06V178.26M447.49 274.66V266.46M447.49 170.06V178.26M475.20 274.66V266.46M475.20 170.06V178.26M502.91 274.66V266.46M502.91 170.06V178.26M530.61 274.66V266.46M530.61 170.06V178.26M397.62 274.66H405.02M552.78 274.66H545.38M397.62 238.59H405.02M552.78 238.59H545.38M397.62 202.52H405.02M552.78 202.52H545.38" stroke="#000" stroke-width="0.8" fill="none"/>
<rect x="397.62" y="170.06" width="155.16" height="104.60" fill="none" stroke="#000" stroke-width="1.35"/>
<text class="f" transform="translate(504.82 183.66) scale(0.893 1)">239.96GHz</text>
</g>
<g>
<g>
<polyline points="569.07,274.42 569.85,274.34 570.62,274.26 571.40,274.17 572.17,274.07 572.95,273.96 573.73,273.85 574.50,273.72 575.28,273.57 576.05,273.42 576.83,273.25 577.61,273.06 578.38,272.86 579.16,272.64 579.93,272.41 580.71,272.15 581.48,271.87 582.26,271.58 583.04,271.25 583.81,270.91 584.59,270.53 585.36,270.13 586.14,269.71 586.92,269.25 587.69,268.76 588.47,268.24 589.24,267.68 590.02,267.09 590.79,266.46 591.57,265.80 592.35,265.10 593.12,264.35 593.90,263.57 594.67,262.75 595.45,261.88 596.22,260.97 597.00,260.02 597.78,259.02 598.55,257.98 599.33,256.90 600.10,255.78 600.88,254.61 601.66,253.40 602.43,252.15 603.21,250.86 603.98,249.53 604.76,248.16 605.53,246.76 606.31,245.33 607.09,243.87 607.86,242.38 608.64,240.86 609.41,239.33 610.19,237.78 610.96,236.21 611.74,234.64 612.52,233.06 613.29,231.49 614.07,229.92 614.84,228.36 615.62,226.81 616.40,225.29 617.17,223.79 617.95,222.33 618.72,220.91 619.50,219.53 620.27,218.20 621.05,216.93 621.83,215.72 622.60,214.58 623.38,213.52 624.15,212.54 624.93,211.65 625.71,210.85 626.48,210.15 627.26,209.56 628.03,209.08 628.81,208.72 629.58,208.49 630.36,208.40 631.14,208.49 631.91,208.72 632.69,209.08 633.46,209.56 634.24,210.15 635.01,210.85 635.79,211.65 636.57,212.54 637.34,213.52 638.12,214.58 638.89,215.72 639.67,216.93 640.45,218.20 641.22,219.53 642.00,220.91 642.77,222.33 643.55,223.79 644.32,225.29 645.10,226.81 645.88,228.36 646.65,229.92 647.43,231.49 648.20,233.06 648.98,234.64 649.75,236.21 650.53,237.78 651.31,239.33 652.08,240.86 652.86,242.38 653.63,243.87 654.41,245.33 655.19,246.76 655.96,248.16 656.74,249.53 657.51,250.86 658.29,252.15 659.06,253.40 659.84,254.61 660.62,255.78 661.39,256.90 662.17,257.98 662.94,259.02 663.72,260.02 664.50,260.97 665.27,261.88 666.05,262.75 666.82,263.57 667.60,264.35 668.37,265.10 669.15,265.80 669.93,266.46 670.70,267.09 671.48,267.68 672.25,268.24 673.03,268.76 673.80,269.25 674.58,269.71 675.36,270.13 676.13,270.53 676.91,270.91 677.68,271.25 678.46,271.58 679.24,271.87 680.01,272.15 680.79,272.41 681.56,272.64 682.34,272.86 683.11,273.06 683.89,273.25 684.67,273.42 685.44,273.57 686.22,273.72 686.99,273.85 687.77,273.96 688.54,274.07 689.32,274.17 690.10,274.26 690.87,274.34 691.65,274.42" fill="none" stroke="#ff0000" stroke-width="1.5" stroke-linejoin="round"/>
<polyline points="569.07,274.41 569.85,274.33 570.62,274.25 571.40,274.16 572.17,274.07 572.95,273.96 573.73,273.84 574.50,273.72 575.28,273.58 576.05,273.43 576.83,273.26 577.61,273.08 578.38,272.89 579.16,272.68 579.93,272.45 580.71,272.20 581.48,271.93 582.26,271.64 583.04,271.33 583.81,271.00 584.59,270.64 585.36,270.26 586.14,269.84 586.92,269.41 587.69,268.94 588.47,268.44 589.24,267.90 590.02,267.34 590.79,266.74 591.57,266.10 592.35,265.43 593.12,264.72 593.90,263.98 594.67,263.19 595.45,262.36 596.22,261.50 597.00,260.59 597.78,259.64 598.55,258.65 599.33,257.62 600.10,256.55 600.88,255.44 601.66,254.28 602.43,253.09 603.21,251.86 603.98,250.60 604.76,249.30 605.53,247.96 606.31,246.60 607.09,245.20 607.86,243.78 608.64,242.33 609.41,240.87 610.19,239.38 610.96,237.89 611.74,236.38 612.52,234.87 613.29,233.35 614.07,231.84 614.84,230.34 615.62,228.84 616.40,227.37 617.17,225.92 617.95,224.50 618.72,223.11 619.50,221.77 620.27,220.46 621.05,219.21 621.83,218.02 622.60,216.89 623.38,215.82 624.15,214.83 624.93,213.93 625.71,213.10 626.48,212.37 627.26,211.73 628.03,211.20 628.81,210.78 629.58,210.47 630.36,210.29 631.14,210.25 631.91,210.37 632.69,210.63 633.46,211.01 634.24,211.49 635.01,212.08 635.79,212.78 636.57,213.56 637.34,214.43 638.12,215.39 638.89,216.42 639.67,217.52 640.45,218.69 641.22,219.92 642.00,221.20 642.77,222.53 643.55,223.90 644.32,225.31 645.10,226.75 645.88,228.21 646.65,229.70 647.43,231.19 648.20,232.70 648.98,234.22 649.75,235.73 650.53,237.24 651.31,238.74 652.08,240.23 652.86,241.71 653.63,243.16 654.41,244.59 655.19,246.00 655.96,247.38 656.74,248.73 657.51,250.04 658.29,251.33 659.06,252.57 659.84,253.78 660.62,254.95 661.39,256.08 662.17,257.17 662.94,258.21 663.72,259.22 664.50,260.19 665.27,261.11 666.05,262.00 666.82,262.84 667.60,263.64 668.37,264.41 669.15,265.13 669.93,265.82 670.70,266.47 671.48,267.09 672.25,267.67 673.03,268.21 673.80,268.73 674.58,269.21 675.36,269.66 676.13,270.08 676.91,270.48 677.68,270.85 678.46,271.19 679.24,271.51 680.01,271.81 680.79,272.09 681.56,272.34 682.34,272.58 683.11,272.80 683.89,273.00 684.67,273.19 685.44,273.36 686.22,273.51 686.99,273.66 687.77,273.79 688.54,273.91 689.32,274.02 690.10,274.12 690.87,274.22 691.65,274.30 692.42,274.38" fill="none" stroke="#0000ff" stroke-width="1.5" stroke-linejoin="round"/>
</g>
<path d="M574.95 274.66V266.46M574.95 170.06V178.26M602.65 274.66V266.46M602.65 170.06V178.26M630.36 274.66V266.46M630.36 170.06V178.26M658.07 274.66V266.46M658.07 170.06V178.26M685.77 274.66V266.46M685.77 170.06V178.26M552.78 274.66H560.18M707.94 274.66H700.54M552.78 238.59H560.18M707.94 238.59H700.54M552.78 202.52H560.18M707.94 202.52H700.54" stroke="#000" stroke-width="0.8" fill="none"/>
<rect x="552.78" y="170.06" width="155.16" height="104.60" fill="none" stroke="#000" stroke-width="1.35"/>
<text class="f" transform="translate(659.98 183.66) scale(0.893 1)">283.586GHz</text>
</g>
<g>
<g>
<polyline points="111.35,379.01 112.13,378.96 112.90,378.90 113.68,378.83 114.45,378.75 115.23,378.66 116.00,378.56 116.78,378.44 117.56,378.31 118.33,378.16 119.11,378.00 119.88,377.82 120.66,377.61 121.44,377.39 122.21,377.14 122.99,376.86 123.76,376.56 124.54,376.23 125.31,375.87 126.09,375.48 126.87,375.05 127.64,374.59 128.42,374.09 129.19,373.56 129.97,372.98 130.74,372.37 131.52,371.72 132.30,371.03 133.07,370.30 133.85,369.53 134.62,368.72 135.40,367.88 136.18,367.00 136.95,366.08 137.73,365.13 138.50,364.15 139.28,363.14 140.05,362.11 140.83,361.05 141.61,359.98 142.38,358.89 143.16,357.80 143.93,356.69 144.71,355.59 145.49,354.49 146.26,353.40 147.04,352.33 147.81,351.27 148.59,350.24 149.36,349.23 150.14,348.26 150.92,347.33 151.69,346.43 152.47,345.59 153.24,344.80 154.02,344.05 154.79,343.37 155.57,342.75 156.35,342.18 157.12,341.68 157.90,341.25 158.67,340.88 159.45,340.57 160.23,340.33 161.00,340.15 161.78,340.03 162.55,339.96 163.33,339.94 164.10,339.96 164.88,340.03 165.66,340.15 166.43,340.33 167.21,340.57 167.98,340.88 168.76,341.25 169.53,341.68 170.31,342.18 171.09,342.75 171.86,343.37 172.64,344.05 173.41,344.80 174.19,345.59 174.97,346.43 175.74,347.33 176.52,348.26 177.29,349.23 178.07,350.24 178.84,351.27 179.62,352.33 180.40,353.40 181.17,354.49 181.95,355.59 182.72,356.69 183.50,357.80 184.27,358.89 185.05,359.98 185.83,361.05 186.60,362.11 187.38,363.14 188.15,364.15 188.93,365.13 189.71,366.08 190.48,367.00 191.26,367.88 192.03,368.72 192.81,369.53 193.58,370.30 194.36,371.03 195.14,371.72 195.91,372.37 196.69,372.98 197.46,373.56 198.24,374.09 199.02,374.59 199.79,375.05 200.57,375.48 201.34,375.87 202.12,376.23 202.89,376.56 203.67,376.86 204.45,377.14 205.22,377.39 206.00,377.61 206.77,377.82 207.55,378.00 208.32,378.16 209.10,378.31 209.88,378.44 210.65,378.56 211.43,378.66 212.20,378.75 212.98,378.83 213.76,378.90 214.53,378.96 215.31,379.01" fill="none" stroke="#ff0000" stroke-width="1.5" stroke-linejoin="round"/>
<polyline points="111.35,379.03 112.13,378.99 112.90,378.93 113.68,378.87 114.45,378.80 115.23,378.72 116.00,378.63 116.78,378.53 117.56,378.42 118.33,378.29 119.11,378.15 119.88,377.99 120.66,377.81 121.44,377.61 122.21,377.40 122.99,377.16 123.76,376.90 124.54,376.61 125.31,376.30 126.09,375.96 126.87,375.59 127.64,375.19 128.42,374.76 129.19,374.30 129.97,373.80 130.74,373.28 131.52,372.71 132.30,372.12 133.07,371.49 133.85,370.83 134.62,370.13 135.40,369.40 136.18,368.64 136.95,367.85 137.73,367.03 138.50,366.18 139.28,365.31 140.05,364.42 140.83,363.51 141.61,362.58 142.38,361.63 143.16,360.68 143.93,359.72 144.71,358.76 145.49,357.80 146.26,356.85 147.04,355.90 147.81,354.97 148.59,354.06 149.36,353.18 150.14,352.31 150.92,351.48 151.69,350.69 152.47,349.93 153.24,349.21 154.02,348.54 154.79,347.92 155.57,347.35 156.35,346.82 157.12,346.36 157.90,345.94 158.67,345.58 159.45,345.28 160.23,345.04 161.00,344.84 161.78,344.70 162.55,344.61 163.33,344.57 164.10,344.56 164.88,344.59 165.66,344.66 166.43,344.78 167.21,344.95 167.98,345.17 168.76,345.45 169.53,345.78 170.31,346.17 171.09,346.62 171.86,347.12 172.64,347.67 173.41,348.27 174.19,348.92 174.97,349.62 175.74,350.36 176.52,351.14 177.29,351.95 178.07,352.80 178.84,353.68 179.62,354.58 180.40,355.50 181.17,356.44 181.95,357.39 182.72,358.35 183.50,359.31 184.27,360.27 185.05,361.23 185.83,362.17 186.60,363.11 187.38,364.03 188.15,364.93 188.93,365.81 189.71,366.67 190.48,367.50 191.26,368.31 192.03,369.08 192.81,369.82 193.58,370.53 194.36,371.21 195.14,371.85 195.91,372.46 196.69,373.04 197.46,373.58 198.24,374.09 199.02,374.56 199.79,375.01 200.57,375.42 201.34,375.80 202.12,376.15 202.89,376.48 203.67,376.78 204.45,377.05 205.22,377.30 206.00,377.52 206.77,377.73 207.55,377.91 208.32,378.08 209.10,378.23 209.88,378.36 210.65,378.48 211.43,378.59 212.20,378.68 212.98,378.77 213.76,378.84 214.53,378.91 215.31,378.96 216.08,379.01" fill="none" stroke="#0000ff" stroke-width="1.5" stroke-linejoin="round"/>
</g>
<path d="M109.47 379.26V371.06M109.47 274.66V282.86M137.17 379.26V371.06M137.17 274.66V282.86M164.88 379.26V371.06M164.88 274.66V282.86M192.59 379.26V371.06M192.59 274.66V282.86M220.29 379.26V371.06M220.29 274.66V282.86M87.30 379.26H94.70M242.46 379.26H235.06M87.30 343.19H94.70M242.46 343.19H235.06M87.30 307.12H94.70M242.46 307.12H235.06" stroke="#000" stroke-width="0.8" fill="none"/>
<rect x="87.30" y="274.66" width="155.16" height="104.60" fill="none" stroke="#000" stroke-width="1.35"/>
<text class="f" transform="translate(194.50 288.26) scale(0.893 1)">109.21GHz</text>
<text class="t12" x="77.4" y="382.96" text-anchor="end">0</text>
<text class="t12" x="77.4" y="346.89" text-anchor="end">1</text>
<text class="t12" x="77.4" y="310.82" text-anchor="end">2</text>
<text class="b" font-size="12.4" text-anchor="middle" transform="translate(54.6 327.36) rotate(-90) scale(1.048 1)">T<tspan font-size="10" dy="3.7">MB</tspan><tspan dy="-3.7"> (K)</tspan></text>
</g>
<g>
<g>
<polyline points="261.85,379.03 262.63,378.98 263.41,378.93 264.18,378.87 264.96,378.81 265.73,378.74 266.51,378.66 267.29,378.57 268.06,378.47 268.84,378.37 269.61,378.25 270.39,378.12 271.16,377.98 271.94,377.82 272.72,377.66 273.49,377.47 274.27,377.27 275.04,377.05 275.82,376.82 276.60,376.56 277.37,376.29 278.15,375.99 278.92,375.67 279.70,375.33 280.47,374.97 281.25,374.58 282.03,374.16 282.80,373.72 283.58,373.25 284.35,372.75 285.13,372.23 285.90,371.68 286.68,371.10 287.46,370.49 288.23,369.86 289.01,369.19 289.78,368.50 290.56,367.79 291.34,367.04 292.11,366.28 292.89,365.48 293.66,364.67 294.44,363.83 295.21,362.98 295.99,362.11 296.77,361.23 297.54,360.33 298.32,359.42 299.09,358.51 299.87,357.59 300.64,356.67 301.42,355.76 302.20,354.85 302.97,353.95 303.75,353.06 304.52,352.19 305.30,351.34 306.08,350.51 306.85,349.71 307.63,348.94 308.40,348.20 309.18,347.50 309.95,346.85 310.73,346.23 311.51,345.67 312.28,345.15 313.06,344.69 313.83,344.28 314.61,343.93 315.39,343.64 316.16,343.41 316.94,343.24 317.71,343.13 318.49,343.08 319.26,343.10 320.04,343.18 320.82,343.33 321.59,343.53 322.37,343.80 323.14,344.13 323.92,344.51 324.69,344.95 325.47,345.44 326.25,345.99 327.02,346.58 327.80,347.22 328.57,347.90 329.35,348.62 330.13,349.37 330.90,350.16 331.68,350.98 332.45,351.82 333.23,352.68 334.00,353.56 334.78,354.46 335.56,355.37 336.33,356.28 337.11,357.20 337.88,358.12 338.66,359.03 339.43,359.94 340.21,360.84 340.99,361.73 341.76,362.61 342.54,363.47 343.31,364.31 344.09,365.14 344.87,365.94 345.64,366.72 346.42,367.47 347.19,368.20 347.97,368.90 348.74,369.58 349.52,370.22 350.30,370.84 351.07,371.44 351.85,372.00 352.62,372.53 353.40,373.04 354.18,373.52 354.95,373.97 355.73,374.40 356.50,374.80 357.28,375.18 358.05,375.53 358.83,375.86 359.61,376.16 360.38,376.45 361.16,376.71 361.93,376.95 362.71,377.18 363.48,377.39 364.26,377.58 365.04,377.75 365.81,377.92 366.59,378.06 367.36,378.20 368.14,378.32 368.92,378.43 369.69,378.53 370.47,378.62 371.24,378.70 372.02,378.78 372.79,378.85 373.57,378.91 374.35,378.96 375.12,379.01" fill="none" stroke="#ff0000" stroke-width="1.5" stroke-linejoin="round"/>
<polyline points="261.85,379.03 262.63,378.99 263.41,378.94 264.18,378.88 264.96,378.82 265.73,378.75 266.51,378.68 267.29,378.60 268.06,378.50 268.84,378.40 269.61,378.29 270.39,378.17 271.16,378.04 271.94,377.89 272.72,377.73 273.49,377.56 274.27,377.37 275.04,377.17 275.82,376.94 276.60,376.71 277.37,376.45 278.15,376.17 278.92,375.87 279.70,375.56 280.47,375.22 281.25,374.85 282.03,374.47 282.80,374.06 283.58,373.62 284.35,373.16 285.13,372.67 285.90,372.16 286.68,371.62 287.46,371.06 288.23,370.47 289.01,369.85 289.78,369.21 290.56,368.54 291.34,367.85 292.11,367.14 292.89,366.40 293.66,365.65 294.44,364.87 295.21,364.08 295.99,363.27 296.77,362.44 297.54,361.60 298.32,360.76 299.09,359.90 299.87,359.04 300.64,358.18 301.42,357.32 302.20,356.47 302.97,355.62 303.75,354.78 304.52,353.96 305.30,353.15 306.08,352.36 306.85,351.60 307.63,350.86 308.40,350.15 309.18,349.48 309.95,348.84 310.73,348.24 311.51,347.69 312.28,347.18 313.06,346.71 313.83,346.30 314.61,345.94 315.39,345.63 316.16,345.37 316.94,345.17 317.71,345.03 318.49,344.95 319.26,344.92 320.04,344.96 320.82,345.05 321.59,345.20 322.37,345.40 323.14,345.67 323.92,345.98 324.69,346.35 325.47,346.78 326.25,347.25 327.02,347.76 327.80,348.33 328.57,348.93 329.35,349.57 330.13,350.25 330.90,350.96 331.68,351.70 332.45,352.47 333.23,353.26 334.00,354.07 334.78,354.90 335.56,355.74 336.33,356.59 337.11,357.45 337.88,358.31 338.66,359.17 339.43,360.02 340.21,360.88 340.99,361.72 341.76,362.56 342.54,363.38 343.31,364.19 344.09,364.98 344.87,365.76 345.64,366.51 346.42,367.24 347.19,367.95 347.97,368.64 348.74,369.30 349.52,369.94 350.30,370.55 351.07,371.14 351.85,371.70 352.62,372.24 353.40,372.74 354.18,373.23 354.95,373.68 355.73,374.12 356.50,374.52 357.28,374.91 358.05,375.27 358.83,375.60 359.61,375.92 360.38,376.21 361.16,376.49 361.93,376.74 362.71,376.98 363.48,377.20 364.26,377.40 365.04,377.58 365.81,377.76 366.59,377.91 367.36,378.06 368.14,378.19 368.92,378.31 369.69,378.42 370.47,378.52 371.24,378.61 372.02,378.69 372.79,378.76 373.57,378.83 374.35,378.89 375.12,378.94 375.90,378.99 376.67,379.04" fill="none" stroke="#0000ff" stroke-width="1.5" stroke-linejoin="round"/>
</g>
<path d="M264.63 379.26V371.06M264.63 274.66V282.86M292.33 379.26V371.06M292.33 274.66V282.86M320.04 379.26V371.06M320.04 274.66V282.86M347.75 379.26V371.06M347.75 274.66V282.86M375.45 379.26V371.06M375.45 274.66V282.86M242.46 379.26H249.86M397.62 379.26H390.22M242.46 343.19H249.86M397.62 343.19H390.22M242.46 307.12H249.86M397.62 307.12H390.22" stroke="#000" stroke-width="0.8" fill="none"/>
<rect x="242.46" y="274.66" width="155.16" height="104.60" fill="none" stroke="#000" stroke-width="1.35"/>
<text class="f" transform="translate(349.66 288.26) scale(0.893 1)">152.86GHz</text>
</g>
<g>
<g>
<polyline points="414.69,378.98 415.46,378.90 416.24,378.82 417.01,378.73 417.79,378.64 418.57,378.53 419.34,378.41 420.12,378.29 420.89,378.15 421.67,378.00 422.45,377.83 423.22,377.65 424.00,377.46 424.77,377.24 425.55,377.01 426.32,376.77 427.10,376.50 427.88,376.21 428.65,375.90 429.43,375.57 430.20,375.21 430.98,374.83 431.76,374.42 432.53,373.98 433.31,373.51 434.08,373.01 434.86,372.49 435.63,371.92 436.41,371.33 437.19,370.70 437.96,370.04 438.74,369.34 439.51,368.60 440.29,367.82 441.06,367.01 441.84,366.16 442.62,365.27 443.39,364.34 444.17,363.37 444.94,362.36 445.72,361.31 446.50,360.23 447.27,359.11 448.05,357.96 448.82,356.77 449.60,355.55 450.37,354.29 451.15,353.01 451.93,351.70 452.70,350.37 453.48,349.01 454.25,347.64 455.03,346.25 455.81,344.85 456.58,343.45 457.36,342.03 458.13,340.62 458.91,339.22 459.68,337.82 460.46,336.44 461.24,335.08 462.01,333.74 462.79,332.43 463.56,331.15 464.34,329.92 465.11,328.73 465.89,327.59 466.67,326.51 467.44,325.50 468.22,324.54 468.99,323.67 469.77,322.87 470.55,322.16 471.32,321.53 472.10,321.00 472.87,320.57 473.65,320.25 474.42,320.04 475.20,319.96 475.98,320.04 476.75,320.25 477.53,320.57 478.30,321.00 479.08,321.53 479.85,322.16 480.63,322.87 481.41,323.67 482.18,324.54 482.96,325.50 483.73,326.51 484.51,327.59 485.29,328.73 486.06,329.92 486.84,331.15 487.61,332.43 488.39,333.74 489.16,335.08 489.94,336.44 490.72,337.82 491.49,339.22 492.27,340.62 493.04,342.03 493.82,343.45 494.60,344.85 495.37,346.25 496.15,347.64 496.92,349.01 497.70,350.37 498.47,351.70 499.25,353.01 500.03,354.29 500.80,355.55 501.58,356.77 502.35,357.96 503.13,359.11 503.90,360.23 504.68,361.31 505.46,362.36 506.23,363.37 507.01,364.34 507.78,365.27 508.56,366.16 509.34,367.01 510.11,367.82 510.89,368.60 511.66,369.34 512.44,370.04 513.21,370.70 513.99,371.33 514.77,371.92 515.54,372.49 516.32,373.01 517.09,373.51 517.87,373.98 518.64,374.42 519.42,374.83 520.20,375.21 520.97,375.57 521.75,375.90 522.52,376.21 523.30,376.50 524.08,376.77 524.85,377.01 525.63,377.24 526.40,377.46 527.18,377.65 527.95,377.83 528.73,378.00 529.51,378.15 530.28,378.29 531.06,378.41 531.83,378.53 532.61,378.64 533.38,378.73 534.16,378.82 534.94,378.90 535.71,378.98" fill="none" stroke="#ff0000" stroke-width="1.5" stroke-linejoin="round"/>
<polyline points="413.91,379.00 414.69,378.93 415.46,378.86 416.24,378.78 417.01,378.69 417.79,378.59 418.57,378.48 419.34,378.36 420.12,378.23 420.89,378.09 421.67,377.94 422.45,377.77 423.22,377.59 424.00,377.40 424.77,377.18 425.55,376.95 426.32,376.71 427.10,376.44 427.88,376.16 428.65,375.85 429.43,375.52 430.20,375.16 430.98,374.79 431.76,374.38 432.53,373.95 433.31,373.49 434.08,373.01 434.86,372.49 435.63,371.94 436.41,371.36 437.19,370.74 437.96,370.10 438.74,369.42 439.51,368.70 440.29,367.95 441.06,367.16 441.84,366.33 442.62,365.47 443.39,364.57 444.17,363.64 444.94,362.67 445.72,361.66 446.50,360.62 447.27,359.54 448.05,358.43 448.82,357.29 449.60,356.12 450.37,354.92 451.15,353.69 451.93,352.44 452.70,351.16 453.48,349.87 454.25,348.56 455.03,347.23 455.81,345.89 456.58,344.55 457.36,343.20 458.13,341.86 458.91,340.52 459.68,339.19 460.46,337.87 461.24,336.57 462.01,335.29 462.79,334.04 463.56,332.82 464.34,331.65 465.11,330.51 465.89,329.42 466.67,328.39 467.44,327.41 468.22,326.50 468.99,325.65 469.77,324.88 470.55,324.19 471.32,323.58 472.10,323.06 472.87,322.63 473.65,322.31 474.42,322.09 475.20,321.99 475.98,322.03 476.75,322.20 477.53,322.48 478.30,322.87 479.08,323.35 479.85,323.92 480.63,324.58 481.41,325.31 482.18,326.13 482.96,327.01 483.73,327.96 484.51,328.97 485.29,330.04 486.06,331.15 486.84,332.31 487.61,333.51 488.39,334.75 489.16,336.02 489.94,337.31 490.72,338.62 491.49,339.94 492.27,341.28 493.04,342.63 493.82,343.97 494.60,345.32 495.37,346.66 496.15,347.99 496.92,349.31 497.70,350.61 498.47,351.89 499.25,353.16 500.03,354.39 500.80,355.61 501.58,356.79 502.35,357.95 503.13,359.07 503.90,360.16 504.68,361.22 505.46,362.24 506.23,363.23 507.01,364.18 507.78,365.09 508.56,365.97 509.34,366.81 510.11,367.61 510.89,368.38 511.66,369.11 512.44,369.81 513.21,370.47 513.99,371.10 514.77,371.69 515.54,372.26 516.32,372.79 517.09,373.29 517.87,373.76 518.64,374.20 519.42,374.62 520.20,375.01 520.97,375.37 521.75,375.71 522.52,376.03 523.30,376.32 524.08,376.60 524.85,376.85 525.63,377.09 526.40,377.31 527.18,377.51 527.95,377.70 528.73,377.87 529.51,378.03 530.28,378.17 531.06,378.31 531.83,378.43 532.61,378.54 533.38,378.65 534.16,378.74 534.94,378.83 535.71,378.90 536.49,378.97 537.26,379.04" fill="none" stroke="#0000ff" stroke-width="1.5" stroke-linejoin="round"/>
</g>
<path d="M419.79 379.26V371.06M419.79 274.66V282.86M447.49 379.26V371.06M447.49 274.66V282.86M475.20 379.26V371.06M475.20 274.66V282.86M502.91 379.26V371.06M502.91 274.66V282.86M530.61 379.26V371.06M530.61 274.66V282.86M397.62 379.26H405.02M552.78 379.26H545.38M397.62 343.19H405.02M552.78 343.19H545.38M397.62 307.12H405.02M552.78 307.12H545.38" stroke="#000" stroke-width="0.8" fill="none"/>
<rect x="397.62" y="274.66" width="155.16" height="104.60" fill="none" stroke="#000" stroke-width="1.35"/>
<text class="f" transform="translate(504.82 288.26) scale(0.893 1)">240.14GHz</text>
</g>
<g>
<g>
<polyline points="569.85,378.98 570.62,378.90 571.40,378.82 572.17,378.73 572.95,378.63 573.73,378.52 574.50,378.40 575.28,378.27 576.05,378.13 576.83,377.97 577.61,377.80 578.38,377.62 579.16,377.42 579.93,377.20 580.71,376.97 581.48,376.71 582.26,376.44 583.04,376.14 583.81,375.82 584.59,375.48 585.36,375.11 586.14,374.72 586.92,374.30 587.69,373.85 588.47,373.37 589.24,372.86 590.02,372.32 590.79,371.74 591.57,371.13 592.35,370.48 593.12,369.79 593.90,369.07 594.67,368.31 595.45,367.52 596.22,366.68 597.00,365.80 597.78,364.88 598.55,363.92 599.33,362.92 600.10,361.88 600.88,360.81 601.66,359.69 602.43,358.53 603.21,357.34 603.98,356.11 604.76,354.85 605.53,353.55 606.31,352.23 607.09,350.87 607.86,349.50 608.64,348.09 609.41,346.67 610.19,345.23 610.96,343.78 611.74,342.33 612.52,340.86 613.29,339.40 614.07,337.94 614.84,336.49 615.62,335.05 616.40,333.64 617.17,332.24 617.95,330.88 618.72,329.55 619.50,328.27 620.27,327.03 621.05,325.84 621.83,324.71 622.60,323.65 623.38,322.65 624.15,321.73 624.93,320.89 625.71,320.14 626.48,319.47 627.26,318.91 628.03,318.45 628.81,318.10 629.58,317.87 630.36,317.76 631.14,317.82 631.91,318.02 632.69,318.34 633.46,318.77 634.24,319.30 635.01,319.94 635.79,320.67 636.57,321.48 637.34,322.38 638.12,323.35 638.89,324.40 639.67,325.51 640.45,326.68 641.22,327.91 642.00,329.18 642.77,330.50 643.55,331.85 644.32,333.24 645.10,334.65 645.88,336.08 646.65,337.52 647.43,338.98 648.20,340.44 648.98,341.91 649.75,343.37 650.53,344.82 651.31,346.26 652.08,347.69 652.86,349.10 653.63,350.48 654.41,351.84 655.19,353.18 655.96,354.48 656.74,355.75 657.51,356.99 658.29,358.20 659.06,359.36 659.84,360.49 660.62,361.58 661.39,362.63 662.17,363.64 662.94,364.61 663.72,365.54 664.50,366.43 665.27,367.28 666.05,368.09 666.82,368.86 667.60,369.59 668.37,370.29 669.15,370.95 669.93,371.57 670.70,372.15 671.48,372.71 672.25,373.23 673.03,373.72 673.80,374.17 674.58,374.60 675.36,375.00 676.13,375.38 676.91,375.73 677.68,376.05 678.46,376.36 679.24,376.64 680.01,376.90 680.79,377.14 681.56,377.36 682.34,377.56 683.11,377.75 683.89,377.93 684.67,378.08 685.44,378.23 686.22,378.36 686.99,378.49 687.77,378.60 688.54,378.70 689.32,378.79 690.10,378.88 690.87,378.96 691.65,379.03" fill="none" stroke="#ff0000" stroke-width="1.5" stroke-linejoin="round"/>
<polyline points="569.85,379.03 570.62,378.96 571.40,378.88 572.17,378.79 572.95,378.70 573.73,378.60 574.50,378.49 575.28,378.36 576.05,378.23 576.83,378.08 577.61,377.93 578.38,377.75 579.16,377.56 579.93,377.36 580.71,377.14 581.48,376.90 582.26,376.64 583.04,376.36 583.81,376.05 584.59,375.73 585.36,375.38 586.14,375.00 586.92,374.60 587.69,374.17 588.47,373.72 589.24,373.23 590.02,372.71 590.79,372.15 591.57,371.57 592.35,370.95 593.12,370.29 593.90,369.59 594.67,368.86 595.45,368.09 596.22,367.28 597.00,366.43 597.78,365.54 598.55,364.61 599.33,363.64 600.10,362.63 600.88,361.58 601.66,360.49 602.43,359.36 603.21,358.20 603.98,356.99 604.76,355.75 605.53,354.48 606.31,353.18 607.09,351.84 607.86,350.48 608.64,349.10 609.41,347.69 610.19,346.26 610.96,344.82 611.74,343.37 612.52,341.91 613.29,340.44 614.07,338.98 614.84,337.52 615.62,336.08 616.40,334.65 617.17,333.24 617.95,331.85 618.72,330.50 619.50,329.18 620.27,327.91 621.05,326.68 621.83,325.51 622.60,324.40 623.38,323.35 624.15,322.38 624.93,321.48 625.71,320.67 626.48,319.94 627.26,319.30 628.03,318.77 628.81,318.34 629.58,318.02 630.36,317.82 631.14,317.76 631.91,317.87 632.69,318.10 633.46,318.45 634.24,318.91 635.01,319.47 635.79,320.14 636.57,320.89 637.34,321.73 638.12,322.65 638.89,323.65 639.67,324.71 640.45,325.84 641.22,327.03 642.00,328.27 642.77,329.55 643.55,330.88 644.32,332.24 645.10,333.64 645.88,335.05 646.65,336.49 647.43,337.94 648.20,339.40 648.98,340.86 649.75,342.33 650.53,343.78 651.31,345.23 652.08,346.67 652.86,348.09 653.63,349.50 654.41,350.87 655.19,352.23 655.96,353.55 656.74,354.85 657.51,356.11 658.29,357.34 659.06,358.53 659.84,359.69 660.62,360.81 661.39,361.88 662.17,362.92 662.94,363.92 663.72,364.88 664.50,365.80 665.27,366.68 666.05,367.52 666.82,368.31 667.60,369.07 668.37,369.79 669.15,370.48 669.93,371.13 670.70,371.74 671.48,372.32 672.25,372.86 673.03,373.37 673.80,373.85 674.58,374.30 675.36,374.72 676.13,375.11 676.91,375.48 677.68,375.82 678.46,376.14 679.24,376.44 680.01,376.71 680.79,376.97 681.56,377.20 682.34,377.42 683.11,377.62 683.89,377.80 684.67,377.97 685.44,378.13 686.22,378.27 686.99,378.40 687.77,378.52 688.54,378.63 689.32,378.73 690.10,378.82 690.87,378.90 691.65,378.98" fill="none" stroke="#0000ff" stroke-width="1.5" stroke-linejoin="round"/>
</g>
<path d="M574.95 379.26V371.06M574.95 274.66V282.86M602.65 379.26V371.06M602.65 274.66V282.86M630.36 379.26V371.06M630.36 274.66V282.86M658.07 379.26V371.06M658.07 274.66V282.86M685.77 379.26V371.06M685.77 274.66V282.86M552.78 379.26H560.18M707.94 379.26H700.54M552.78 343.19H560.18M707.94 343.19H700.54M552.78 307.12H560.18M707.94 307.12H700.54" stroke="#000" stroke-width="0.8" fill="none"/>
<rect x="552.78" y="274.66" width="155.16" height="104.60" fill="none" stroke="#000" stroke-width="1.35"/>
<text class="f" transform="translate(659.98 288.26) scale(0.893 1)">283.593GHz</text>
</g>
<g>
<g>
<polyline points="121.44,483.62 122.21,483.58 122.99,483.55 123.76,483.51 124.54,483.46 125.31,483.42 126.09,483.37 126.87,483.31 127.64,483.25 128.42,483.19 129.19,483.12 129.97,483.04 130.74,482.96 131.52,482.88 132.30,482.79 133.07,482.70 133.85,482.60 134.62,482.49 135.40,482.38 136.18,482.27 136.95,482.15 137.73,482.03 138.50,481.90 139.28,481.77 140.05,481.64 140.83,481.50 141.61,481.36 142.38,481.22 143.16,481.08 143.93,480.94 144.71,480.80 145.49,480.66 146.26,480.52 147.04,480.38 147.81,480.25 148.59,480.11 149.36,479.98 150.14,479.86 150.92,479.74 151.69,479.63 152.47,479.52 153.24,479.42 154.02,479.33 154.79,479.24 155.57,479.16 156.35,479.09 157.12,479.03 157.90,478.97 158.67,478.92 159.45,478.89 160.23,478.86 161.00,478.83 161.78,478.82 162.55,478.81 163.33,478.81 164.10,478.81 164.88,478.82 165.66,478.84 166.43,478.86 167.21,478.90 167.98,478.94 168.76,478.99 169.53,479.04 170.31,479.11 171.09,479.18 171.86,479.26 172.64,479.35 173.41,479.45 174.19,479.55 174.97,479.66 175.74,479.78 176.52,479.90 177.29,480.02 178.07,480.15 178.84,480.28 179.62,480.42 180.40,480.56 181.17,480.70 181.95,480.84 182.72,480.98 183.50,481.12 184.27,481.26 185.05,481.40 185.83,481.54 186.60,481.68 187.38,481.81 188.15,481.94 188.93,482.06 189.71,482.18 190.48,482.30 191.26,482.41 192.03,482.52 192.81,482.62 193.58,482.72 194.36,482.82 195.14,482.90 195.91,482.99 196.69,483.06 197.46,483.14 198.24,483.21 199.02,483.27 199.79,483.33 200.57,483.38 201.34,483.43 202.12,483.48 202.89,483.52 203.67,483.56 204.45,483.59 205.22,483.62" fill="none" stroke="#ff0000" stroke-width="1.5" stroke-linejoin="round"/>
<polyline points="121.44,483.63 122.21,483.60 122.99,483.57 123.76,483.53 124.54,483.50 125.31,483.45 126.09,483.41 126.87,483.36 127.64,483.30 128.42,483.25 129.19,483.18 129.97,483.12 130.74,483.05 131.52,482.97 132.30,482.89 133.07,482.81 133.85,482.72 134.62,482.63 135.40,482.53 136.18,482.43 136.95,482.32 137.73,482.22 138.50,482.10 139.28,481.99 140.05,481.87 140.83,481.75 141.61,481.63 142.38,481.51 143.16,481.38 143.93,481.26 144.71,481.13 145.49,481.01 146.26,480.89 147.04,480.76 147.81,480.64 148.59,480.53 149.36,480.41 150.14,480.30 150.92,480.20 151.69,480.10 152.47,480.00 153.24,479.91 154.02,479.83 154.79,479.75 155.57,479.68 156.35,479.61 157.12,479.56 157.90,479.51 158.67,479.46 159.45,479.43 160.23,479.40 161.00,479.38 161.78,479.36 162.55,479.35 163.33,479.35 164.10,479.35 164.88,479.36 165.66,479.37 166.43,479.39 167.21,479.41 167.98,479.45 168.76,479.49 169.53,479.53 170.31,479.59 171.09,479.65 171.86,479.72 172.64,479.79 173.41,479.87 174.19,479.96 174.97,480.06 175.74,480.15 176.52,480.26 177.29,480.37 178.07,480.48 178.84,480.59 179.62,480.71 180.40,480.83 181.17,480.96 181.95,481.08 182.72,481.21 183.50,481.33 184.27,481.45 185.05,481.58 185.83,481.70 186.60,481.82 187.38,481.94 188.15,482.06 188.93,482.17 189.71,482.28 190.48,482.38 191.26,482.49 192.03,482.59 192.81,482.68 193.58,482.77 194.36,482.86 195.14,482.94 195.91,483.01 196.69,483.09 197.46,483.16 198.24,483.22 199.02,483.28 199.79,483.33 200.57,483.39 201.34,483.43 202.12,483.48 202.89,483.52 203.67,483.56 204.45,483.59 205.22,483.62" fill="none" stroke="#0000ff" stroke-width="1.5" stroke-linejoin="round"/>
</g>
<path d="M109.47 483.86V475.66M109.47 379.26V387.46M137.17 483.86V475.66M137.17 379.26V387.46M164.88 483.86V475.66M164.88 379.26V387.46M192.59 483.86V475.66M192.59 379.26V387.46M220.29 483.86V475.66M220.29 379.26V387.46M87.30 483.86H94.70M242.46 483.86H235.06M87.30 447.79H94.70M242.46 447.79H235.06M87.30 411.72H94.70M242.46 411.72H235.06" stroke="#000" stroke-width="0.8" fill="none"/>
<rect x="87.30" y="379.26" width="155.16" height="104.60" fill="none" stroke="#000" stroke-width="1.35"/>
<text class="f" transform="translate(194.50 392.86) scale(0.893 1)">109.27GHz</text>
<text class="t12" x="77.4" y="487.56" text-anchor="end">0</text>
<text class="t12" x="77.4" y="451.49" text-anchor="end">1</text>
<text class="t12" x="77.4" y="415.42" text-anchor="end">2</text>
<text class="b" font-size="12.4" text-anchor="middle" transform="translate(54.6 431.96) rotate(-90) scale(1.048 1)">T<tspan font-size="10" dy="3.7">MB</tspan><tspan dy="-3.7"> (K)</tspan></text>
</g>
<g>
<g>
<polyline points="260.30,483.63 261.08,483.58 261.85,483.52 262.63,483.45 263.41,483.38 264.18,483.30 264.96,483.21 265.73,483.11 266.51,482.99 267.29,482.87 268.06,482.73 268.84,482.58 269.61,482.42 270.39,482.23 271.16,482.03 271.94,481.81 272.72,481.57 273.49,481.31 274.27,481.03 275.04,480.72 275.82,480.39 276.60,480.03 277.37,479.64 278.15,479.23 278.92,478.78 279.70,478.30 280.47,477.79 281.25,477.24 282.03,476.66 282.80,476.04 283.58,475.39 284.35,474.70 285.13,473.97 285.90,473.20 286.68,472.39 287.46,471.54 288.23,470.66 289.01,469.74 289.78,468.78 290.56,467.78 291.34,466.75 292.11,465.69 292.89,464.59 293.66,463.47 294.44,462.31 295.21,461.14 295.99,459.94 296.77,458.72 297.54,457.48 298.32,456.24 299.09,454.98 299.87,453.73 300.64,452.47 301.42,451.22 302.20,449.97 302.97,448.75 303.75,447.54 304.52,446.35 305.30,445.20 306.08,444.08 306.85,442.99 307.63,441.95 308.40,440.97 309.18,440.03 309.95,439.15 310.73,438.33 311.51,437.58 312.28,436.90 313.06,436.30 313.83,435.76 314.61,435.31 315.39,434.94 316.16,434.65 316.94,434.45 317.71,434.33 318.49,434.30 319.26,434.36 320.04,434.50 320.82,434.73 321.59,435.04 322.37,435.43 323.14,435.91 323.92,436.46 324.69,437.09 325.47,437.79 326.25,438.56 327.02,439.40 327.80,440.29 328.57,441.24 329.35,442.25 330.13,443.30 330.90,444.39 331.68,445.52 332.45,446.69 333.23,447.88 334.00,449.10 334.78,450.33 335.56,451.57 336.33,452.83 337.11,454.09 337.88,455.34 338.66,456.59 339.43,457.84 340.21,459.07 340.99,460.28 341.76,461.48 342.54,462.65 343.31,463.79 344.09,464.91 344.87,466.00 345.64,467.05 346.42,468.07 347.19,469.06 347.97,470.01 348.74,470.92 349.52,471.79 350.30,472.62 351.07,473.42 351.85,474.18 352.62,474.90 353.40,475.58 354.18,476.22 354.95,476.83 355.73,477.40 356.50,477.94 357.28,478.44 358.05,478.91 358.83,479.35 359.61,479.76 360.38,480.14 361.16,480.49 361.93,480.81 362.71,481.11 363.48,481.39 364.26,481.64 365.04,481.88 365.81,482.09 366.59,482.29 367.36,482.46 368.14,482.63 368.92,482.77 369.69,482.91 370.47,483.03 371.24,483.14 372.02,483.24 372.79,483.32 373.57,483.40 374.35,483.47 375.12,483.54 375.90,483.59" fill="none" stroke="#ff0000" stroke-width="1.5" stroke-linejoin="round"/>
<polyline points="259.53,483.62 260.30,483.57 261.08,483.51 261.85,483.44 262.63,483.37 263.41,483.28 264.18,483.19 264.96,483.09 265.73,482.97 266.51,482.85 267.29,482.71 268.06,482.55 268.84,482.38 269.61,482.20 270.39,481.99 271.16,481.77 271.94,481.53 272.72,481.27 273.49,480.98 274.27,480.67 275.04,480.33 275.82,479.97 276.60,479.58 277.37,479.16 278.15,478.71 278.92,478.22 279.70,477.70 280.47,477.15 281.25,476.57 282.03,475.94 282.80,475.28 283.58,474.58 284.35,473.84 285.13,473.06 285.90,472.25 286.68,471.39 287.46,470.50 288.23,469.56 289.01,468.59 289.78,467.58 290.56,466.53 291.34,465.45 292.11,464.33 292.89,463.19 293.66,462.01 294.44,460.81 295.21,459.58 295.99,458.33 296.77,457.06 297.54,455.78 298.32,454.49 299.09,453.19 299.87,451.89 300.64,450.59 301.42,449.29 302.20,448.01 302.97,446.74 303.75,445.50 304.52,444.28 305.30,443.09 306.08,441.94 306.85,440.82 307.63,439.76 308.40,438.74 309.18,437.78 309.95,436.88 310.73,436.05 311.51,435.28 312.28,434.58 313.06,433.96 313.83,433.42 314.61,432.95 315.39,432.57 316.16,432.28 316.94,432.07 317.71,431.95 318.49,431.92 319.26,431.98 320.04,432.12 320.82,432.36 321.59,432.67 322.37,433.08 323.14,433.56 323.92,434.13 324.69,434.77 325.47,435.49 326.25,436.28 327.02,437.13 327.80,438.05 328.57,439.03 329.35,440.06 330.13,441.14 330.90,442.26 331.68,443.43 332.45,444.62 333.23,445.85 334.00,447.10 334.78,448.37 335.56,449.66 336.33,450.96 337.11,452.26 337.88,453.56 338.66,454.86 339.43,456.15 340.21,457.43 340.99,458.69 341.76,459.93 342.54,461.15 343.31,462.35 344.09,463.52 344.87,464.66 345.64,465.76 346.42,466.83 347.19,467.87 347.97,468.87 348.74,469.83 349.52,470.76 350.30,471.64 351.07,472.49 351.85,473.29 352.62,474.06 353.40,474.78 354.18,475.47 354.95,476.12 355.73,476.74 356.50,477.31 357.28,477.86 358.05,478.36 358.83,478.84 359.61,479.28 360.38,479.69 361.16,480.08 361.93,480.43 362.71,480.76 363.48,481.06 364.26,481.34 365.04,481.60 365.81,481.84 366.59,482.05 367.36,482.25 368.14,482.43 368.92,482.60 369.69,482.75 370.47,482.88 371.24,483.01 372.02,483.12 372.79,483.22 373.57,483.31 374.35,483.39 375.12,483.46 375.90,483.53 376.67,483.59 377.45,483.64" fill="none" stroke="#0000ff" stroke-width="1.5" stroke-linejoin="round"/>
</g>
<path d="M264.63 483.86V475.66M264.63 379.26V387.46M292.33 483.86V475.66M292.33 379.26V387.46M320.04 483.86V475.66M320.04 379.26V387.46M347.75 483.86V475.66M347.75 379.26V387.46M375.45 483.86V475.66M375.45 379.26V387.46M242.46 483.86H249.86M397.62 483.86H390.22M242.46 447.79H249.86M397.62 447.79H390.22M242.46 411.72H249.86M397.62 411.72H390.22" stroke="#000" stroke-width="0.8" fill="none"/>
<rect x="242.46" y="379.26" width="155.16" height="104.60" fill="none" stroke="#000" stroke-width="1.35"/>
<text class="f" transform="translate(349.66 392.86) scale(0.893 1)">152.89GHz</text>
</g>
<g>
<g>
<polyline points="413.91,483.59 414.69,483.50 415.46,483.40 416.24,483.29 417.01,483.17 417.79,483.04 418.57,482.89 419.34,482.73 420.12,482.56 420.89,482.37 421.67,482.17 422.45,481.94 423.22,481.70 424.00,481.43 424.77,481.14 425.55,480.83 426.32,480.49 427.10,480.12 427.88,479.73 428.65,479.30 429.43,478.85 430.20,478.36 430.98,477.83 431.76,477.27 432.53,476.67 433.31,476.02 434.08,475.34 434.86,474.61 435.63,473.84 436.41,473.02 437.19,472.15 437.96,471.23 438.74,470.27 439.51,469.25 440.29,468.18 441.06,467.05 441.84,465.87 442.62,464.64 443.39,463.35 444.17,462.01 444.94,460.62 445.72,459.17 446.50,457.67 447.27,456.12 448.05,454.52 448.82,452.87 449.60,451.17 450.37,449.44 451.15,447.66 451.93,445.84 452.70,443.99 453.48,442.11 454.25,440.21 455.03,438.28 455.81,436.34 456.58,434.39 457.36,432.44 458.13,430.48 458.91,428.53 459.68,426.60 460.46,424.68 461.24,422.79 462.01,420.94 462.79,419.13 463.56,417.37 464.34,415.67 465.11,414.03 465.89,412.46 466.67,410.98 467.44,409.58 468.22,408.28 468.99,407.08 469.77,405.99 470.55,405.02 471.32,404.18 472.10,403.47 472.87,402.90 473.65,402.49 474.42,402.23 475.20,402.17 475.98,402.32 476.75,402.65 477.53,403.13 478.30,403.76 479.08,404.52 479.85,405.42 480.63,406.44 481.41,407.58 482.18,408.82 482.96,410.17 483.73,411.60 484.51,413.13 485.29,414.72 486.06,416.39 486.84,418.12 487.61,419.90 488.39,421.73 489.16,423.60 489.94,425.50 490.72,427.42 491.49,429.36 492.27,431.32 493.04,433.27 493.82,435.23 494.60,437.18 495.37,439.11 496.15,441.03 496.92,442.92 497.70,444.79 498.47,446.62 499.25,448.42 500.03,450.19 500.80,451.91 501.58,453.58 502.35,455.21 503.13,456.79 503.90,458.32 504.68,459.80 505.46,461.22 506.23,462.59 507.01,463.91 507.78,465.17 508.56,466.38 509.34,467.54 510.11,468.64 510.89,469.69 511.66,470.69 512.44,471.63 513.21,472.53 513.99,473.38 514.77,474.17 515.54,474.93 516.32,475.64 517.09,476.30 517.87,476.93 518.64,477.51 519.42,478.06 520.20,478.57 520.97,479.05 521.75,479.49 522.52,479.90 523.30,480.28 524.08,480.64 524.85,480.96 525.63,481.27 526.40,481.55 527.18,481.80 527.95,482.04 528.73,482.26 529.51,482.46 530.28,482.64 531.06,482.80 531.83,482.96 532.61,483.10 533.38,483.22 534.16,483.34 534.94,483.44 535.71,483.54 536.49,483.62" fill="none" stroke="#ff0000" stroke-width="1.5" stroke-linejoin="round"/>
<polyline points="414.69,483.55 415.46,483.45 416.24,483.34 417.01,483.21 417.79,483.08 418.57,482.92 419.34,482.76 420.12,482.58 420.89,482.38 421.67,482.16 422.45,481.92 423.22,481.66 424.00,481.38 424.77,481.07 425.55,480.74 426.32,480.38 427.10,479.99 427.88,479.56 428.65,479.11 429.43,478.61 430.20,478.09 430.98,477.52 431.76,476.91 432.53,476.25 433.31,475.55 434.08,474.81 434.86,474.01 435.63,473.17 436.41,472.27 437.19,471.32 437.96,470.31 438.74,469.24 439.51,468.12 440.29,466.93 441.06,465.68 441.84,464.38 442.62,463.01 443.39,461.58 444.17,460.08 444.94,458.53 445.72,456.91 446.50,455.23 447.27,453.49 448.05,451.69 448.82,449.84 449.60,447.93 450.37,445.98 451.15,443.97 451.93,441.92 452.70,439.83 453.48,437.70 454.25,435.55 455.03,433.36 455.81,431.16 456.58,428.94 457.36,426.72 458.13,424.49 458.91,422.27 459.68,420.06 460.46,417.88 461.24,415.72 462.01,413.61 462.79,411.54 463.56,409.52 464.34,407.57 465.11,405.69 465.89,403.90 466.67,402.19 467.44,400.59 468.22,399.09 468.99,397.72 469.77,396.47 470.55,395.35 471.32,394.38 472.10,393.57 472.87,392.91 473.65,392.44 474.42,392.14 475.20,392.07 475.98,392.24 476.75,392.62 477.53,393.17 478.30,393.90 479.08,394.78 479.85,395.81 480.63,396.99 481.41,398.29 482.18,399.72 482.96,401.26 483.73,402.91 484.51,404.66 485.29,406.49 486.06,408.40 486.84,410.38 487.61,412.42 488.39,414.51 489.16,416.64 489.94,418.81 490.72,421.01 491.49,423.22 492.27,425.44 493.04,427.67 493.82,429.89 494.60,432.11 495.37,434.30 496.15,436.48 496.92,438.62 497.70,440.73 498.47,442.81 499.25,444.84 500.03,446.82 500.80,448.76 501.58,450.64 502.35,452.47 503.13,454.24 503.90,455.96 504.68,457.61 505.46,459.20 506.23,460.73 507.01,462.20 507.78,463.60 508.56,464.95 509.34,466.23 510.11,467.45 510.89,468.60 511.66,469.70 512.44,470.75 513.21,471.73 513.99,472.66 514.77,473.54 515.54,474.36 516.32,475.13 517.09,475.86 517.87,476.54 518.64,477.17 519.42,477.77 520.20,478.32 520.97,478.83 521.75,479.31 522.52,479.75 523.30,480.16 524.08,480.54 524.85,480.89 525.63,481.21 526.40,481.50 527.18,481.78 527.95,482.03 528.73,482.26 529.51,482.47 530.28,482.66 531.06,482.83 531.83,482.99 532.61,483.14 533.38,483.27 534.16,483.39 534.94,483.49 535.71,483.59" fill="none" stroke="#0000ff" stroke-width="1.5" stroke-linejoin="round"/>
</g>
<path d="M419.79 483.86V475.66M419.79 379.26V387.46M447.49 483.86V475.66M447.49 379.26V387.46M475.20 483.86V475.66M475.20 379.26V387.46M502.91 483.86V475.66M502.91 379.26V387.46M530.61 483.86V475.66M530.61 379.26V387.46M397.62 483.86H405.02M552.78 483.86H545.38M397.62 447.79H405.02M552.78 447.79H545.38M397.62 411.72H405.02M552.78 411.72H545.38" stroke="#000" stroke-width="0.8" fill="none"/>
<rect x="397.62" y="379.26" width="155.16" height="104.60" fill="none" stroke="#000" stroke-width="1.35"/>
<text class="f" transform="translate(504.82 392.86) scale(0.893 1)">240.15GHz</text>
</g>
<g>
<g>
<polyline points="570.62,483.59 571.40,483.53 572.17,483.46 572.95,483.39 573.73,483.31 574.50,483.22 575.28,483.12 576.05,483.01 576.83,482.90 577.61,482.77 578.38,482.63 579.16,482.48 579.93,482.32 580.71,482.14 581.48,481.95 582.26,481.74 583.04,481.52 583.81,481.28 584.59,481.03 585.36,480.75 586.14,480.45 586.92,480.14 587.69,479.80 588.47,479.44 589.24,479.05 590.02,478.65 590.79,478.21 591.57,477.75 592.35,477.26 593.12,476.75 593.90,476.21 594.67,475.64 595.45,475.04 596.22,474.40 597.00,473.74 597.78,473.05 598.55,472.33 599.33,471.58 600.10,470.80 600.88,469.98 601.66,469.14 602.43,468.27 603.21,467.37 603.98,466.45 604.76,465.50 605.53,464.52 606.31,463.52 607.09,462.50 607.86,461.46 608.64,460.40 609.41,459.33 610.19,458.24 610.96,457.15 611.74,456.05 612.52,454.94 613.29,453.84 614.07,452.74 614.84,451.64 615.62,450.56 616.40,449.48 617.17,448.43 617.95,447.40 618.72,446.40 619.50,445.42 620.27,444.48 621.05,443.58 621.83,442.73 622.60,441.92 623.38,441.16 624.15,440.47 624.93,439.83 625.71,439.25 626.48,438.75 627.26,438.32 628.03,437.96 628.81,437.69 629.58,437.51 630.36,437.42 631.14,437.46 631.91,437.60 632.69,437.84 633.46,438.15 634.24,438.55 635.01,439.03 635.79,439.57 636.57,440.18 637.34,440.86 638.12,441.59 638.89,442.38 639.67,443.21 640.45,444.09 641.22,445.02 642.00,445.98 642.77,446.97 643.55,447.99 644.32,449.03 645.10,450.09 645.88,451.17 646.65,452.27 647.43,453.37 648.20,454.47 648.98,455.58 649.75,456.68 650.53,457.78 651.31,458.87 652.08,459.94 652.86,461.01 653.63,462.06 654.41,463.08 655.19,464.09 655.96,465.08 656.74,466.04 657.51,466.98 658.29,467.89 659.06,468.77 659.84,469.63 660.62,470.45 661.39,471.25 662.17,472.01 662.94,472.75 663.72,473.45 664.50,474.12 665.27,474.77 666.05,475.38 666.82,475.97 667.60,476.52 668.37,477.05 669.15,477.55 669.93,478.02 670.70,478.46 671.48,478.88 672.25,479.28 673.03,479.65 673.80,480.00 674.58,480.32 675.36,480.63 676.13,480.91 676.91,481.18 677.68,481.42 678.46,481.65 679.24,481.86 680.01,482.06 680.79,482.24 681.56,482.41 682.34,482.57 683.11,482.71 683.89,482.84 684.67,482.96 685.44,483.08 686.22,483.18 686.99,483.27 687.77,483.36 688.54,483.43 689.32,483.50 690.10,483.57 690.87,483.63" fill="none" stroke="#ff0000" stroke-width="1.5" stroke-linejoin="round"/>
<polyline points="570.62,483.59 571.40,483.54 572.17,483.48 572.95,483.42 573.73,483.35 574.50,483.28 575.28,483.20 576.05,483.11 576.83,483.01 577.61,482.91 578.38,482.79 579.16,482.67 579.93,482.54 580.71,482.39 581.48,482.24 582.26,482.07 583.04,481.89 583.81,481.70 584.59,481.50 585.36,481.28 586.14,481.04 586.92,480.79 587.69,480.53 588.47,480.24 589.24,479.94 590.02,479.62 590.79,479.28 591.57,478.92 592.35,478.55 593.12,478.15 593.90,477.73 594.67,477.29 595.45,476.82 596.22,476.34 597.00,475.83 597.78,475.30 598.55,474.75 599.33,474.17 600.10,473.57 600.88,472.95 601.66,472.31 602.43,471.65 603.21,470.97 603.98,470.26 604.76,469.54 605.53,468.80 606.31,468.04 607.09,467.26 607.86,466.48 608.64,465.67 609.41,464.86 610.19,464.03 610.96,463.20 611.74,462.36 612.52,461.52 613.29,460.68 614.07,459.84 614.84,459.00 615.62,458.16 616.40,457.34 617.17,456.53 617.95,455.73 618.72,454.95 619.50,454.19 620.27,453.45 621.05,452.74 621.83,452.06 622.60,451.41 623.38,450.80 624.15,450.23 624.93,449.70 625.71,449.21 626.48,448.77 627.26,448.38 628.03,448.05 628.81,447.78 629.58,447.56 630.36,447.41 631.14,447.33 631.91,447.34 632.69,447.43 633.46,447.59 634.24,447.81 635.01,448.10 635.79,448.44 636.57,448.83 637.34,449.28 638.12,449.77 638.89,450.31 639.67,450.88 640.45,451.50 641.22,452.15 642.00,452.84 642.77,453.55 643.55,454.29 644.32,455.06 645.10,455.84 645.88,456.64 646.65,457.46 647.43,458.28 648.20,459.12 648.98,459.96 649.75,460.80 650.53,461.64 651.31,462.48 652.08,463.32 652.86,464.15 653.63,464.97 654.41,465.79 655.19,466.59 655.96,467.38 656.74,468.15 657.51,468.91 658.29,469.64 659.06,470.36 659.84,471.07 660.62,471.75 661.39,472.41 662.17,473.04 662.94,473.66 663.72,474.26 664.50,474.83 665.27,475.38 666.05,475.90 666.82,476.41 667.60,476.89 668.37,477.35 669.15,477.79 669.93,478.21 670.70,478.60 671.48,478.98 672.25,479.33 673.03,479.67 673.80,479.99 674.58,480.28 675.36,480.57 676.13,480.83 676.91,481.08 677.68,481.31 678.46,481.53 679.24,481.73 680.01,481.92 680.79,482.10 681.56,482.26 682.34,482.41 683.11,482.56 683.89,482.69 684.67,482.81 685.44,482.92 686.22,483.02 686.99,483.12 687.77,483.21 688.54,483.29 689.32,483.36 690.10,483.43 690.87,483.49 691.65,483.55 692.42,483.60" fill="none" stroke="#0000ff" stroke-width="1.5" stroke-linejoin="round"/>
</g>
<path d="M574.95 483.86V475.66M574.95 379.26V387.46M602.65 483.86V475.66M602.65 379.26V387.46M630.36 483.86V475.66M630.36 379.26V387.46M658.07 483.86V475.66M658.07 379.26V387.46M685.77 483.86V475.66M685.77 379.26V387.46M552.78 483.86H560.18M707.94 483.86H700.54M552.78 447.79H560.18M707.94 447.79H700.54M552.78 411.72H560.18M707.94 411.72H700.54" stroke="#000" stroke-width="0.8" fill="none"/>
<rect x="552.78" y="379.26" width="155.16" height="104.60" fill="none" stroke="#000" stroke-width="1.35"/>
<text class="f" transform="translate(659.98 392.86) scale(0.893 1)">283.78GHz</text>
</g>
<g>
<g>
<polyline points="106.69,588.17 107.47,588.09 108.25,588.01 109.02,587.91 109.80,587.80 110.57,587.68 111.35,587.55 112.13,587.41 112.90,587.26 113.68,587.09 114.45,586.90 115.23,586.70 116.00,586.49 116.78,586.25 117.56,586.00 118.33,585.72 119.11,585.43 119.88,585.11 120.66,584.76 121.44,584.39 122.21,584.00 122.99,583.58 123.76,583.13 124.54,582.65 125.31,582.14 126.09,581.59 126.87,581.02 127.64,580.41 128.42,579.77 129.19,579.10 129.97,578.39 130.74,577.65 131.52,576.87 132.30,576.05 133.07,575.20 133.85,574.32 134.62,573.40 135.40,572.45 136.18,571.47 136.95,570.45 137.73,569.41 138.50,568.34 139.28,567.24 140.05,566.12 140.83,564.97 141.61,563.81 142.38,562.63 143.16,561.44 143.93,560.24 144.71,559.04 145.49,557.83 146.26,556.62 147.04,555.42 147.81,554.23 148.59,553.06 149.36,551.91 150.14,550.78 150.92,549.68 151.69,548.61 152.47,547.59 153.24,546.60 154.02,545.67 154.79,544.79 155.57,543.98 156.35,543.22 157.12,542.53 157.90,541.92 158.67,541.38 159.45,540.93 160.23,540.56 161.00,540.28 161.78,540.10 162.55,540.02 163.33,540.07 164.10,540.22 164.88,540.47 165.66,540.81 166.43,541.24 167.21,541.76 167.98,542.35 168.76,543.02 169.53,543.75 170.31,544.55 171.09,545.42 171.86,546.33 172.64,547.30 173.41,548.31 174.19,549.37 174.97,550.46 175.74,551.58 176.52,552.73 177.29,553.90 178.07,555.08 178.84,556.28 179.62,557.48 180.40,558.69 181.17,559.90 181.95,561.10 182.72,562.29 183.50,563.48 184.27,564.64 185.05,565.79 185.83,566.92 186.60,568.02 187.38,569.10 188.15,570.16 188.93,571.18 189.71,572.17 190.48,573.13 191.26,574.06 192.03,574.95 192.81,575.81 193.58,576.64 194.36,577.43 195.14,578.18 195.91,578.90 196.69,579.58 197.46,580.23 198.24,580.85 199.02,581.43 199.79,581.98 200.57,582.50 201.34,582.99 202.12,583.45 202.89,583.88 203.67,584.28 204.45,584.66 205.22,585.01 206.00,585.34 206.77,585.64 207.55,585.92 208.32,586.18 209.10,586.42 209.88,586.64 210.65,586.85 211.43,587.04 212.20,587.21 212.98,587.37 213.76,587.51 214.53,587.65 215.31,587.77 216.08,587.88 216.86,587.98 217.63,588.07 218.41,588.15 219.19,588.23" fill="none" stroke="#ff0000" stroke-width="1.5" stroke-linejoin="round"/>
<polyline points="105.14,588.23 105.92,588.15 106.69,588.06 107.47,587.97 108.25,587.86 109.02,587.75 109.80,587.62 110.57,587.48 111.35,587.33 112.13,587.17 112.90,586.99 113.68,586.79 114.45,586.58 115.23,586.35 116.00,586.10 116.78,585.82 117.56,585.53 118.33,585.22 119.11,584.88 119.88,584.51 120.66,584.12 121.44,583.70 122.21,583.25 122.99,582.77 123.76,582.26 124.54,581.72 125.31,581.15 126.09,580.54 126.87,579.90 127.64,579.22 128.42,578.50 129.19,577.75 129.97,576.96 130.74,576.13 131.52,575.27 132.30,574.36 133.07,573.42 133.85,572.45 134.62,571.43 135.40,570.38 136.18,569.30 136.95,568.19 137.73,567.04 138.50,565.87 139.28,564.67 140.05,563.44 140.83,562.19 141.61,560.92 142.38,559.64 143.16,558.34 143.93,557.04 144.71,555.73 145.49,554.42 146.26,553.11 147.04,551.81 147.81,550.53 148.59,549.26 149.36,548.01 150.14,546.79 150.92,545.61 151.69,544.46 152.47,543.35 153.24,542.30 154.02,541.29 154.79,540.35 155.57,539.47 156.35,538.66 157.12,537.92 157.90,537.26 158.67,536.69 159.45,536.20 160.23,535.80 161.00,535.50 161.78,535.31 162.55,535.22 163.33,535.27 164.10,535.44 164.88,535.71 165.66,536.07 166.43,536.54 167.21,537.09 167.98,537.72 168.76,538.44 169.53,539.23 170.31,540.09 171.09,541.02 171.86,542.01 172.64,543.05 173.41,544.14 174.19,545.28 174.97,546.45 175.74,547.66 176.52,548.90 177.29,550.16 178.07,551.44 178.84,552.74 179.62,554.05 180.40,555.36 181.17,556.67 181.95,557.97 182.72,559.27 183.50,560.56 184.27,561.83 185.05,563.08 185.83,564.32 186.60,565.53 187.38,566.71 188.15,567.86 188.93,568.99 189.71,570.08 190.48,571.14 191.26,572.16 192.03,573.15 192.81,574.10 193.58,575.01 194.36,575.89 195.14,576.73 195.91,577.53 196.69,578.29 197.46,579.02 198.24,579.71 199.02,580.36 199.79,580.98 200.57,581.56 201.34,582.11 202.12,582.63 202.89,583.12 203.67,583.58 204.45,584.00 205.22,584.40 206.00,584.77 206.77,585.12 207.55,585.44 208.32,585.74 209.10,586.02 209.88,586.28 210.65,586.51 211.43,586.73 212.20,586.93 212.98,587.12 213.76,587.29 214.53,587.44 215.31,587.59 216.08,587.71 216.86,587.83 217.63,587.94 218.41,588.04 219.19,588.13 219.96,588.21" fill="none" stroke="#0000ff" stroke-width="1.5" stroke-linejoin="round"/>
</g>
<path d="M109.47 588.46V580.26M109.47 483.86V492.06M137.17 588.46V580.26M137.17 483.86V492.06M164.88 588.46V580.26M164.88 483.86V492.06M192.59 588.46V580.26M192.59 483.86V492.06M220.29 588.46V580.26M220.29 483.86V492.06M87.30 588.46H94.70M242.46 588.46H235.06M87.30 552.39H94.70M242.46 552.39H235.06M87.30 516.32H94.70M242.46 516.32H235.06" stroke="#000" stroke-width="0.8" fill="none"/>
<rect x="87.30" y="483.86" width="155.16" height="104.60" fill="none" stroke="#000" stroke-width="1.35"/>
<text class="f" transform="translate(194.50 497.46) scale(0.893 1)">109.28GHz</text>
<text class="t12" x="77.4" y="592.16" text-anchor="end">0</text>
<text class="t12" x="77.4" y="556.09" text-anchor="end">1</text>
<text class="t12" x="77.4" y="520.02" text-anchor="end">2</text>
<text class="t12" x="109.67" y="612.06" text-anchor="middle">-10</text>
<text class="t12" x="136.87" y="612.06" text-anchor="middle">-5</text>
<text class="t12" x="166.48" y="612.06" text-anchor="middle">0</text>
<text class="t12" x="193.79" y="612.06" text-anchor="middle">5</text>
<text class="t12" x="222.19" y="612.06" text-anchor="middle">10</text>
<text class="b" font-size="12.75" text-anchor="middle" transform="translate(165.08 640.06) scale(0.962 1)">Velocity (km/s)</text>
</g>
<g>
<g>
<polyline points="278.15,588.24 278.92,588.22 279.70,588.19 280.47,588.17 281.25,588.14 282.03,588.11 282.80,588.08 283.58,588.05 284.35,588.02 285.13,587.98 285.90,587.94 286.68,587.91 287.46,587.86 288.23,587.82 289.01,587.77 289.78,587.73 290.56,587.68 291.34,587.63 292.11,587.57 292.89,587.52 293.66,587.46 294.44,587.40 295.21,587.35 295.99,587.28 296.77,587.22 297.54,587.16 298.32,587.10 299.09,587.03 299.87,586.97 300.64,586.91 301.42,586.84 302.20,586.78 302.97,586.72 303.75,586.65 304.52,586.59 305.30,586.53 306.08,586.47 306.85,586.42 307.63,586.36 308.40,586.31 309.18,586.26 309.95,586.21 310.73,586.17 311.51,586.13 312.28,586.09 313.06,586.06 313.83,586.03 314.61,586.00 315.39,585.98 316.16,585.96 316.94,585.95 317.71,585.94 318.49,585.94 319.26,585.94 320.04,585.94 320.82,585.95 321.59,585.96 322.37,585.98 323.14,586.00 323.92,586.02 324.69,586.05 325.47,586.09 326.25,586.12 327.02,586.16 327.80,586.21 328.57,586.25 329.35,586.30 330.13,586.36 330.90,586.41 331.68,586.47 332.45,586.52 333.23,586.58 334.00,586.64 334.78,586.71 335.56,586.77 336.33,586.83 337.11,586.90 337.88,586.96 338.66,587.03 339.43,587.09 340.21,587.15 340.99,587.21 341.76,587.28 342.54,587.34 343.31,587.40 344.09,587.45 344.87,587.51 345.64,587.57 346.42,587.62 347.19,587.67 347.97,587.72 348.74,587.77 349.52,587.81 350.30,587.86 351.07,587.90 351.85,587.94 352.62,587.98 353.40,588.01 354.18,588.05 354.95,588.08 355.73,588.11 356.50,588.14 357.28,588.17 358.05,588.19 358.83,588.21 359.61,588.24" fill="none" stroke="#ff0000" stroke-width="1.5" stroke-linejoin="round"/>
<polyline points="278.92,588.22 279.70,588.20 280.47,588.18 281.25,588.15 282.03,588.12 282.80,588.09 283.58,588.06 284.35,588.03 285.13,588.00 285.90,587.96 286.68,587.92 287.46,587.89 288.23,587.84 289.01,587.80 289.78,587.76 290.56,587.71 291.34,587.66 292.11,587.61 292.89,587.56 293.66,587.51 294.44,587.46 295.21,587.40 295.99,587.35 296.77,587.29 297.54,587.23 298.32,587.18 299.09,587.12 299.87,587.06 300.64,587.00 301.42,586.94 302.20,586.88 302.97,586.83 303.75,586.77 304.52,586.71 305.30,586.66 306.08,586.60 306.85,586.55 307.63,586.50 308.40,586.46 309.18,586.41 309.95,586.37 310.73,586.33 311.51,586.29 312.28,586.26 313.06,586.23 313.83,586.20 314.61,586.18 315.39,586.16 316.16,586.14 316.94,586.13 317.71,586.12 318.49,586.12 319.26,586.12 320.04,586.12 320.82,586.13 321.59,586.14 322.37,586.15 323.14,586.17 323.92,586.20 324.69,586.22 325.47,586.25 326.25,586.29 327.02,586.32 327.80,586.36 328.57,586.40 329.35,586.45 330.13,586.50 330.90,586.55 331.68,586.60 332.45,586.65 333.23,586.70 334.00,586.76 334.78,586.82 335.56,586.87 336.33,586.93 337.11,586.99 337.88,587.05 338.66,587.11 339.43,587.17 340.21,587.23 340.99,587.28 341.76,587.34 342.54,587.40 343.31,587.45 344.09,587.50 344.87,587.56 345.64,587.61 346.42,587.66 347.19,587.70 347.97,587.75 348.74,587.80 349.52,587.84 350.30,587.88 351.07,587.92 351.85,587.96 352.62,587.99 353.40,588.03 354.18,588.06 354.95,588.09 355.73,588.12 356.50,588.15 357.28,588.17 358.05,588.20 358.83,588.22 359.61,588.24" fill="none" stroke="#0000ff" stroke-width="1.5" stroke-linejoin="round"/>
</g>
<path d="M264.63 588.46V580.26M264.63 483.86V492.06M292.33 588.46V580.26M292.33 483.86V492.06M320.04 588.46V580.26M320.04 483.86V492.06M347.75 588.46V580.26M347.75 483.86V492.06M375.45 588.46V580.26M375.45 483.86V492.06M242.46 588.46H249.86M397.62 588.46H390.22M242.46 552.39H249.86M397.62 552.39H390.22M242.46 516.32H249.86M397.62 516.32H390.22" stroke="#000" stroke-width="0.8" fill="none"/>
<rect x="242.46" y="483.86" width="155.16" height="104.60" fill="none" stroke="#000" stroke-width="1.35"/>
<text class="f" transform="translate(349.66 497.46) scale(0.893 1)">152.95GHz</text>
<text class="t12" x="264.83" y="612.06" text-anchor="middle">-10</text>
<text class="t12" x="292.03" y="612.06" text-anchor="middle">-5</text>
<text class="t12" x="321.64" y="612.06" text-anchor="middle">0</text>
<text class="t12" x="348.95" y="612.06" text-anchor="middle">5</text>
<text class="t12" x="377.35" y="612.06" text-anchor="middle">10</text>
<text class="b" font-size="12.75" text-anchor="middle" transform="translate(320.24 640.06) scale(0.962 1)">Velocity (km/s)</text>
</g>
<g>
<g>
<polyline points="435.63,588.24 436.41,588.22 437.19,588.20 437.96,588.18 438.74,588.16 439.51,588.14 440.29,588.11 441.06,588.09 441.84,588.06 442.62,588.03 443.39,588.01 444.17,587.98 444.94,587.95 445.72,587.91 446.50,587.88 447.27,587.85 448.05,587.81 448.82,587.78 449.60,587.74 450.37,587.70 451.15,587.66 451.93,587.62 452.70,587.58 453.48,587.54 454.25,587.50 455.03,587.46 455.81,587.41 456.58,587.37 457.36,587.33 458.13,587.28 458.91,587.24 459.68,587.20 460.46,587.16 461.24,587.12 462.01,587.08 462.79,587.04 463.56,587.00 464.34,586.96 465.11,586.92 465.89,586.89 466.67,586.86 467.44,586.82 468.22,586.80 468.99,586.77 469.77,586.74 470.55,586.72 471.32,586.70 472.10,586.69 472.87,586.68 473.65,586.67 474.42,586.66 475.20,586.66 475.98,586.66 476.75,586.67 477.53,586.68 478.30,586.69 479.08,586.70 479.85,586.72 480.63,586.74 481.41,586.77 482.18,586.80 482.96,586.82 483.73,586.86 484.51,586.89 485.29,586.92 486.06,586.96 486.84,587.00 487.61,587.04 488.39,587.08 489.16,587.12 489.94,587.16 490.72,587.20 491.49,587.24 492.27,587.28 493.04,587.33 493.82,587.37 494.60,587.41 495.37,587.46 496.15,587.50 496.92,587.54 497.70,587.58 498.47,587.62 499.25,587.66 500.03,587.70 500.80,587.74 501.58,587.78 502.35,587.81 503.13,587.85 503.90,587.88 504.68,587.91 505.46,587.95 506.23,587.98 507.01,588.01 507.78,588.03 508.56,588.06 509.34,588.09 510.11,588.11 510.89,588.14 511.66,588.16 512.44,588.18 513.21,588.20 513.99,588.22 514.77,588.24" fill="none" stroke="#ff0000" stroke-width="1.5" stroke-linejoin="round"/>
<polyline points="437.19,588.23 437.96,588.21 438.74,588.19 439.51,588.17 440.29,588.15 441.06,588.12 441.84,588.10 442.62,588.08 443.39,588.05 444.17,588.02 444.94,588.00 445.72,587.97 446.50,587.94 447.27,587.91 448.05,587.88 448.82,587.84 449.60,587.81 450.37,587.78 451.15,587.74 451.93,587.71 452.70,587.67 453.48,587.63 454.25,587.59 455.03,587.56 455.81,587.52 456.58,587.48 457.36,587.44 458.13,587.40 458.91,587.36 459.68,587.33 460.46,587.29 461.24,587.25 462.01,587.21 462.79,587.18 463.56,587.14 464.34,587.11 465.11,587.08 465.89,587.05 466.67,587.02 467.44,586.99 468.22,586.96 468.99,586.94 469.77,586.92 470.55,586.90 471.32,586.88 472.10,586.87 472.87,586.85 473.65,586.84 474.42,586.84 475.20,586.84 475.98,586.84 476.75,586.84 477.53,586.85 478.30,586.87 479.08,586.88 479.85,586.90 480.63,586.92 481.41,586.94 482.18,586.96 482.96,586.99 483.73,587.02 484.51,587.05 485.29,587.08 486.06,587.11 486.84,587.14 487.61,587.18 488.39,587.21 489.16,587.25 489.94,587.29 490.72,587.33 491.49,587.36 492.27,587.40 493.04,587.44 493.82,587.48 494.60,587.52 495.37,587.56 496.15,587.59 496.92,587.63 497.70,587.67 498.47,587.71 499.25,587.74 500.03,587.78 500.80,587.81 501.58,587.84 502.35,587.88 503.13,587.91 503.90,587.94 504.68,587.97 505.46,588.00 506.23,588.02 507.01,588.05 507.78,588.08 508.56,588.10 509.34,588.12 510.11,588.15 510.89,588.17 511.66,588.19 512.44,588.21 513.21,588.23" fill="none" stroke="#0000ff" stroke-width="1.5" stroke-linejoin="round"/>
</g>
<path d="M419.79 588.46V580.26M419.79 483.86V492.06M447.49 588.46V580.26M447.49 483.86V492.06M475.20 588.46V580.26M475.20 483.86V492.06M502.91 588.46V580.26M502.91 483.86V492.06M530.61 588.46V580.26M530.61 483.86V492.06M397.62 588.46H405.02M552.78 588.46H545.38M397.62 552.39H405.02M552.78 552.39H545.38M397.62 516.32H405.02M552.78 516.32H545.38" stroke="#000" stroke-width="0.8" fill="none"/>
<rect x="397.62" y="483.86" width="155.16" height="104.60" fill="none" stroke="#000" stroke-width="1.35"/>
<text class="f" transform="translate(504.82 497.46) scale(0.893 1)">240.27GHz</text>
<text class="t12" x="419.99" y="612.06" text-anchor="middle">-10</text>
<text class="t12" x="447.19" y="612.06" text-anchor="middle">-5</text>
<text class="t12" x="476.80" y="612.06" text-anchor="middle">0</text>
<text class="t12" x="504.11" y="612.06" text-anchor="middle">5</text>
<text class="t12" x="532.51" y="612.06" text-anchor="middle">10</text>
<text class="b" font-size="12.75" text-anchor="middle" transform="translate(475.40 640.06) scale(0.962 1)">Velocity (km/s)</text>
</g>
<g>
<g>
<polyline points="569.07,588.24 569.85,588.17 570.62,588.09 571.40,588.01 572.17,587.91 572.95,587.81 573.73,587.70 574.50,587.57 575.28,587.44 576.05,587.29 576.83,587.13 577.61,586.95 578.38,586.76 579.16,586.55 579.93,586.33 580.71,586.08 581.48,585.82 582.26,585.53 583.04,585.23 583.81,584.90 584.59,584.54 585.36,584.16 586.14,583.75 586.92,583.31 587.69,582.84 588.47,582.34 589.24,581.81 590.02,581.25 590.79,580.65 591.57,580.01 592.35,579.34 593.12,578.63 593.90,577.87 594.67,577.08 595.45,576.25 596.22,575.38 597.00,574.47 597.78,573.51 598.55,572.51 599.33,571.47 600.10,570.39 600.88,569.26 601.66,568.10 602.43,566.90 603.21,565.65 603.98,564.37 604.76,563.06 605.53,561.71 606.31,560.32 607.09,558.91 607.86,557.47 608.64,556.01 609.41,554.53 610.19,553.03 610.96,551.51 611.74,549.99 612.52,548.46 613.29,546.93 614.07,545.41 614.84,543.89 615.62,542.39 616.40,540.91 617.17,539.45 617.95,538.03 618.72,536.64 619.50,535.29 620.27,533.99 621.05,532.75 621.83,531.56 622.60,530.45 623.38,529.40 624.15,528.43 624.93,527.55 625.71,526.75 626.48,526.06 627.26,525.46 628.03,524.97 628.81,524.60 629.58,524.34 630.36,524.23 631.14,524.28 631.91,524.47 632.69,524.79 633.46,525.24 634.24,525.79 635.01,526.44 635.79,527.20 636.57,528.04 637.34,528.97 638.12,529.99 638.89,531.08 639.67,532.23 640.45,533.45 641.22,534.73 642.00,536.05 642.77,537.43 643.55,538.84 644.32,540.28 645.10,541.75 645.88,543.25 646.65,544.76 647.43,546.28 648.20,547.80 648.98,549.33 649.75,550.86 650.53,552.38 651.31,553.89 652.08,555.38 652.86,556.85 653.63,558.30 654.41,559.72 655.19,561.12 655.96,562.48 656.74,563.81 657.51,565.11 658.29,566.37 659.06,567.59 659.84,568.77 660.62,569.91 661.39,571.01 662.17,572.07 662.94,573.09 663.72,574.06 664.50,574.99 665.27,575.88 666.05,576.73 666.82,577.54 667.60,578.31 668.37,579.04 669.15,579.73 669.93,580.38 670.70,580.99 671.48,581.57 672.25,582.12 673.03,582.63 673.80,583.11 674.58,583.56 675.36,583.99 676.13,584.38 676.91,584.75 677.68,585.09 678.46,585.40 679.24,585.70 680.01,585.97 680.79,586.22 681.56,586.46 682.34,586.67 683.11,586.87 683.89,587.05 684.67,587.22 685.44,587.37 686.22,587.52 686.99,587.64 687.77,587.76 688.54,587.87 689.32,587.97 690.10,588.06 690.87,588.14 691.65,588.21" fill="none" stroke="#ff0000" stroke-width="1.5" stroke-linejoin="round"/>
<polyline points="569.85,588.20 570.62,588.12 571.40,588.03 572.17,587.94 572.95,587.83 573.73,587.72 574.50,587.59 575.28,587.45 576.05,587.30 576.83,587.14 577.61,586.96 578.38,586.76 579.16,586.55 579.93,586.31 580.71,586.06 581.48,585.79 582.26,585.50 583.04,585.18 583.81,584.84 584.59,584.47 585.36,584.08 586.14,583.65 586.92,583.20 587.69,582.71 588.47,582.19 589.24,581.64 590.02,581.05 590.79,580.42 591.57,579.76 592.35,579.06 593.12,578.31 593.90,577.52 594.67,576.69 595.45,575.82 596.22,574.90 597.00,573.94 597.78,572.93 598.55,571.88 599.33,570.78 600.10,569.63 600.88,568.44 601.66,567.20 602.43,565.92 603.21,564.60 603.98,563.24 604.76,561.83 605.53,560.39 606.31,558.91 607.09,557.39 607.86,555.84 608.64,554.27 609.41,552.67 610.19,551.05 610.96,549.41 611.74,547.76 612.52,546.10 613.29,544.44 614.07,542.77 614.84,541.11 615.62,539.47 616.40,537.84 617.17,536.23 617.95,534.66 618.72,533.11 619.50,531.61 620.27,530.16 621.05,528.77 621.83,527.43 622.60,526.16 623.38,524.96 624.15,523.85 624.93,522.82 625.71,521.89 626.48,521.05 627.26,520.32 628.03,519.71 628.81,519.21 629.58,518.84 630.36,518.60 631.14,518.52 631.91,518.63 632.69,518.88 633.46,519.27 634.24,519.79 635.01,520.42 635.79,521.16 636.57,522.01 637.34,522.96 638.12,524.00 638.89,525.13 639.67,526.34 640.45,527.62 641.22,528.96 642.00,530.37 642.77,531.83 643.55,533.33 644.32,534.88 645.10,536.46 645.88,538.07 646.65,539.70 647.43,541.35 648.20,543.01 648.98,544.67 649.75,546.34 650.53,548.00 651.31,549.65 652.08,551.28 652.86,552.90 653.63,554.50 654.41,556.07 655.19,557.61 655.96,559.12 656.74,560.59 657.51,562.03 658.29,563.43 659.06,564.79 659.84,566.11 660.62,567.38 661.39,568.61 662.17,569.80 662.94,570.94 663.72,572.03 664.50,573.08 665.27,574.08 666.05,575.04 666.82,575.95 667.60,576.82 668.37,577.64 669.15,578.42 669.93,579.16 670.70,579.86 671.48,580.52 672.25,581.14 673.03,581.72 673.80,582.27 674.58,582.78 675.36,583.26 676.13,583.71 676.91,584.13 677.68,584.53 678.46,584.89 679.24,585.23 680.01,585.54 680.79,585.83 681.56,586.10 682.34,586.35 683.11,586.58 683.89,586.79 684.67,586.98 685.44,587.16 686.22,587.32 686.99,587.47 687.77,587.61 688.54,587.73 689.32,587.85 690.10,587.95 690.87,588.05 691.65,588.13 692.42,588.21" fill="none" stroke="#0000ff" stroke-width="1.5" stroke-linejoin="round"/>
</g>
<path d="M574.95 588.46V580.26M574.95 483.86V492.06M602.65 588.46V580.26M602.65 483.86V492.06M630.36 588.46V580.26M630.36 483.86V492.06M658.07 588.46V580.26M658.07 483.86V492.06M685.77 588.46V580.26M685.77 483.86V492.06M552.78 588.46H560.18M707.94 588.46H700.54M552.78 552.39H560.18M707.94 552.39H700.54M552.78 516.32H560.18M707.94 516.32H700.54" stroke="#000" stroke-width="0.8" fill="none"/>
<rect x="552.78" y="483.86" width="155.16" height="104.60" fill="none" stroke="#000" stroke-width="1.35"/>
<text class="f" transform="translate(659.98 497.46) scale(0.893 1)">283.79GHz</text>
<text class="t12" x="575.15" y="612.06" text-anchor="middle">-10</text>
<text class="t12" x="602.35" y="612.06" text-anchor="middle">-5</text>
<text class="t12" x="631.96" y="612.06" text-anchor="middle">0</text>
<text class="t12" x="659.27" y="612.06" text-anchor="middle">5</text>
<text class="t12" x="687.67" y="612.06" text-anchor="middle">10</text>
<text class="b" font-size="12.75" text-anchor="middle" transform="translate(630.56 640.06) scale(0.962 1)">Velocity (km/s)</text>
</g>
</svg></body></html>
